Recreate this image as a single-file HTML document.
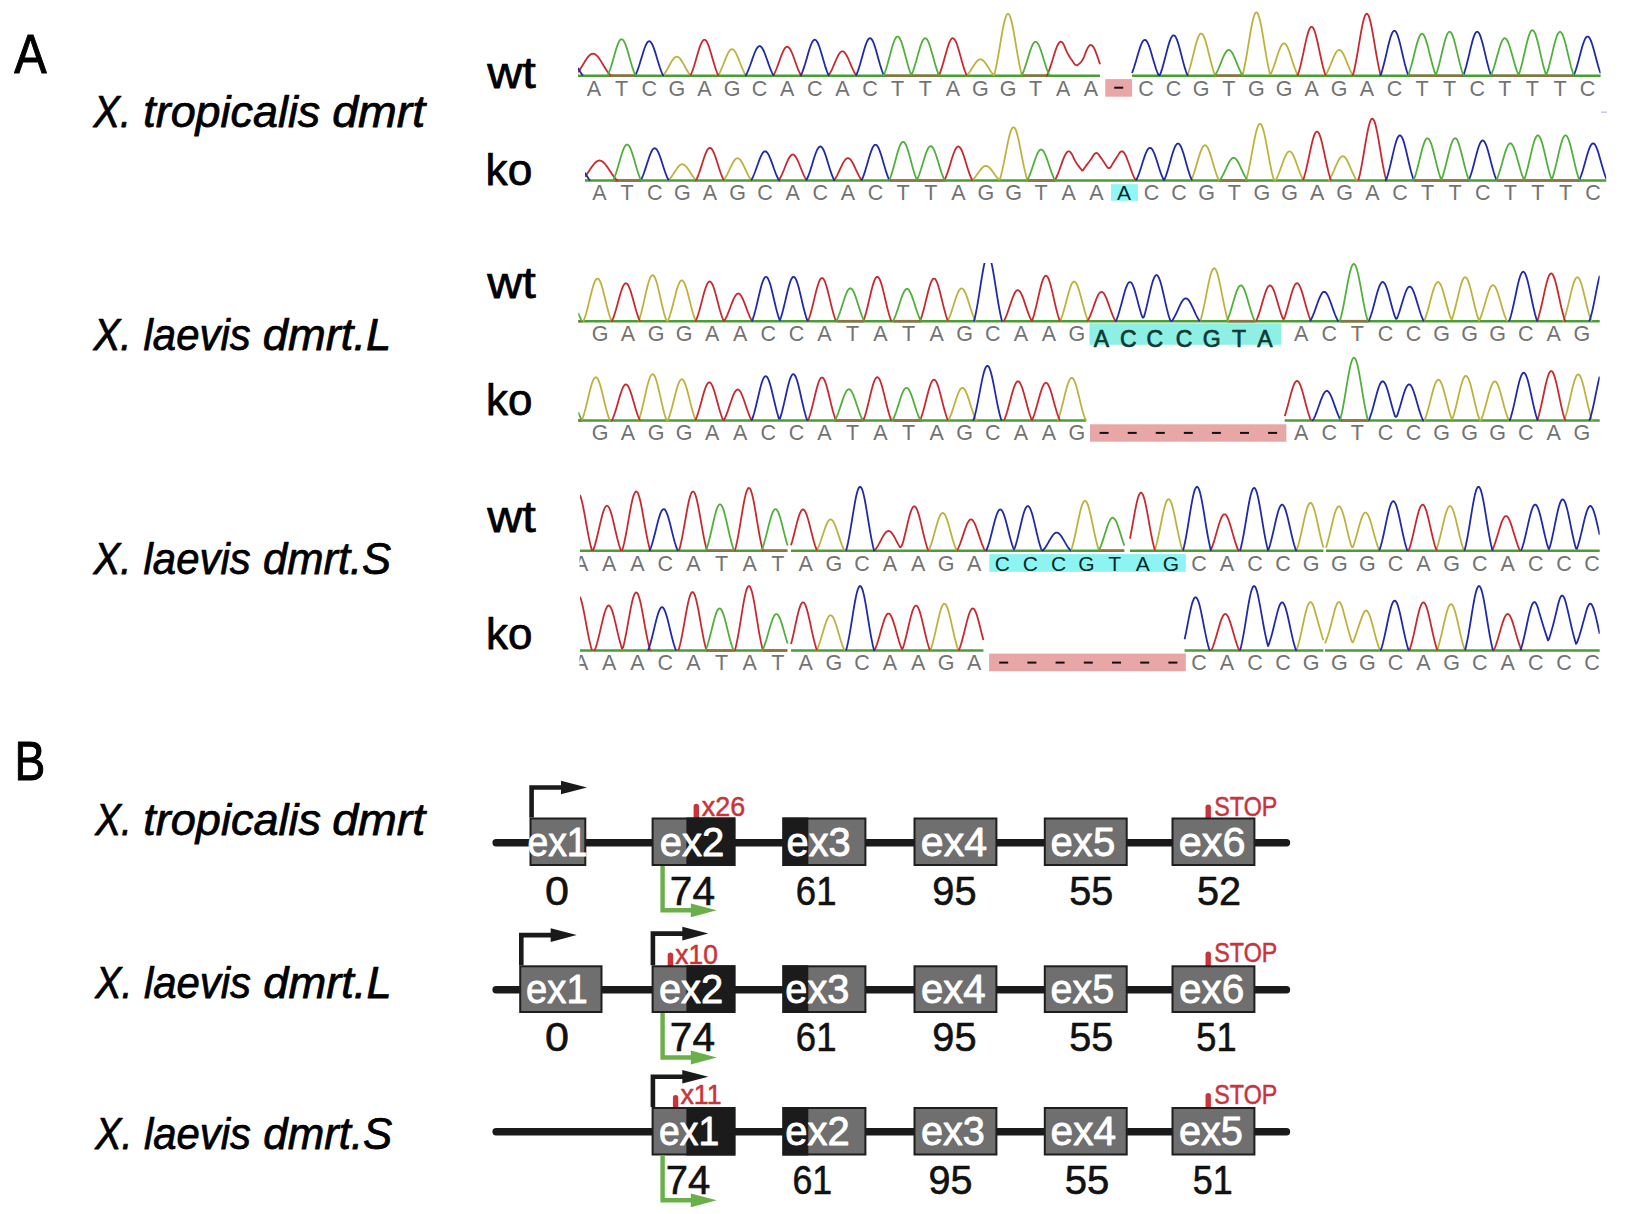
<!DOCTYPE html>
<html><head><meta charset="utf-8"><style>
html,body{margin:0;padding:0;background:#fff;overflow:hidden;}
svg{display:block;}
text{font-family:"Liberation Sans",sans-serif;}
</style></head><body>
<svg width="1628" height="1214" viewBox="0 0 1628 1214" font-family='"Liberation Sans", sans-serif'>
<rect width="1628" height="1214" fill="#fff"/>
<text x="14.21" y="72.70" font-size="55.40" fill="#000" textLength="32.39" lengthAdjust="spacingAndGlyphs" stroke="#000" stroke-width="1.00" stroke-linejoin="round">A</text>
<text x="14.41" y="780.20" font-size="54.70" fill="#000" textLength="30.83" lengthAdjust="spacingAndGlyphs" stroke="#000" stroke-width="1.00" stroke-linejoin="round">B</text>
<text x="93.46" y="127.00" font-size="43.50" fill="#000" textLength="37.51" lengthAdjust="spacingAndGlyphs" font-style="italic" stroke="#000" stroke-width="0.75" stroke-linejoin="round">X.</text>
<text x="143.26" y="127.00" font-size="43.50" fill="#000" textLength="177.06" lengthAdjust="spacingAndGlyphs" font-style="italic" stroke="#000" stroke-width="0.75" stroke-linejoin="round">tropicalis</text>
<text x="332.23" y="127.00" font-size="43.50" fill="#000" textLength="93.05" lengthAdjust="spacingAndGlyphs" font-style="italic" stroke="#000" stroke-width="0.75" stroke-linejoin="round">dmrt</text>
<text x="93.47" y="350.10" font-size="43.50" fill="#000" textLength="37.96" lengthAdjust="spacingAndGlyphs" font-style="italic" stroke="#000" stroke-width="0.75" stroke-linejoin="round">X.</text>
<text x="143.52" y="350.10" font-size="43.50" fill="#000" textLength="107.13" lengthAdjust="spacingAndGlyphs" font-style="italic" stroke="#000" stroke-width="0.75" stroke-linejoin="round">laevis</text>
<text x="262.87" y="350.10" font-size="43.50" fill="#000" textLength="128.29" lengthAdjust="spacingAndGlyphs" font-style="italic" stroke="#000" stroke-width="0.75" stroke-linejoin="round">dmrt.L</text>
<text x="93.47" y="574.00" font-size="43.50" fill="#000" textLength="37.96" lengthAdjust="spacingAndGlyphs" font-style="italic" stroke="#000" stroke-width="0.75" stroke-linejoin="round">X.</text>
<text x="143.52" y="574.00" font-size="43.50" fill="#000" textLength="107.13" lengthAdjust="spacingAndGlyphs" font-style="italic" stroke="#000" stroke-width="0.75" stroke-linejoin="round">laevis</text>
<text x="262.93" y="574.00" font-size="43.50" fill="#000" textLength="128.23" lengthAdjust="spacingAndGlyphs" font-style="italic" stroke="#000" stroke-width="0.75" stroke-linejoin="round">dmrt.S</text>
<text x="95.14" y="834.70" font-size="43.50" fill="#000" textLength="36.61" lengthAdjust="spacingAndGlyphs" font-style="italic" stroke="#000" stroke-width="0.75" stroke-linejoin="round">X.</text>
<text x="143.25" y="834.70" font-size="43.50" fill="#000" textLength="177.87" lengthAdjust="spacingAndGlyphs" font-style="italic" stroke="#000" stroke-width="0.75" stroke-linejoin="round">tropicalis</text>
<text x="332.23" y="834.70" font-size="43.50" fill="#000" textLength="93.05" lengthAdjust="spacingAndGlyphs" font-style="italic" stroke="#000" stroke-width="0.75" stroke-linejoin="round">dmrt</text>
<text x="95.15" y="997.50" font-size="43.50" fill="#000" textLength="37.17" lengthAdjust="spacingAndGlyphs" font-style="italic" stroke="#000" stroke-width="0.75" stroke-linejoin="round">X.</text>
<text x="143.92" y="997.50" font-size="43.50" fill="#000" textLength="107.13" lengthAdjust="spacingAndGlyphs" font-style="italic" stroke="#000" stroke-width="0.75" stroke-linejoin="round">laevis</text>
<text x="263.27" y="997.50" font-size="43.50" fill="#000" textLength="128.39" lengthAdjust="spacingAndGlyphs" font-style="italic" stroke="#000" stroke-width="0.75" stroke-linejoin="round">dmrt.L</text>
<text x="95.15" y="1148.50" font-size="43.50" fill="#000" textLength="37.17" lengthAdjust="spacingAndGlyphs" font-style="italic" stroke="#000" stroke-width="0.75" stroke-linejoin="round">X.</text>
<text x="143.92" y="1148.50" font-size="43.50" fill="#000" textLength="107.13" lengthAdjust="spacingAndGlyphs" font-style="italic" stroke="#000" stroke-width="0.75" stroke-linejoin="round">laevis</text>
<text x="263.32" y="1148.50" font-size="43.50" fill="#000" textLength="128.95" lengthAdjust="spacingAndGlyphs" font-style="italic" stroke="#000" stroke-width="0.75" stroke-linejoin="round">dmrt.S</text>
<text x="487.17" y="88.10" font-size="43.50" fill="#000" textLength="48.69" lengthAdjust="spacingAndGlyphs" stroke="#000" stroke-width="0.75" stroke-linejoin="round">wt</text>
<text x="485.52" y="185.00" font-size="43.50" fill="#000" textLength="46.74" lengthAdjust="spacingAndGlyphs" stroke="#000" stroke-width="0.75" stroke-linejoin="round">ko</text>
<text x="487.17" y="297.70" font-size="43.50" fill="#000" textLength="48.69" lengthAdjust="spacingAndGlyphs" stroke="#000" stroke-width="0.75" stroke-linejoin="round">wt</text>
<text x="485.94" y="414.60" font-size="43.50" fill="#000" textLength="46.41" lengthAdjust="spacingAndGlyphs" stroke="#000" stroke-width="0.75" stroke-linejoin="round">ko</text>
<text x="487.17" y="531.70" font-size="43.50" fill="#000" textLength="48.69" lengthAdjust="spacingAndGlyphs" stroke="#000" stroke-width="0.75" stroke-linejoin="round">wt</text>
<text x="485.94" y="648.90" font-size="43.50" fill="#000" textLength="46.41" lengthAdjust="spacingAndGlyphs" stroke="#000" stroke-width="0.75" stroke-linejoin="round">ko</text>
<clipPath id="cl0"><rect x="578.0" y="-4.3" width="1022.6" height="83.0"/></clipPath>
<rect x="1105.3" y="79.1" width="26.8" height="17.6" fill="#e8a6a6"/>
<rect x="1114.2" y="86.7" width="9" height="2" fill="#111"/>
<line x1="578.0" y1="75.7" x2="1100.0" y2="75.7" stroke="#4a9e34" stroke-width="2.6"/>
<line x1="608.0" y1="75.7" x2="636.0" y2="75.7" stroke="#8a7444" stroke-width="2.6"/>
<line x1="884.0" y1="75.7" x2="940.0" y2="75.7" stroke="#8a7444" stroke-width="2.6"/>
<line x1="1022.0" y1="75.7" x2="1050.0" y2="75.7" stroke="#8a7444" stroke-width="2.6"/>
<line x1="1132.0" y1="75.7" x2="1600.6" y2="75.7" stroke="#4a9e34" stroke-width="2.6"/>
<line x1="1216.0" y1="75.7" x2="1243.0" y2="75.7" stroke="#8a7444" stroke-width="2.6"/>
<line x1="1409.0" y1="75.7" x2="1464.0" y2="75.7" stroke="#8a7444" stroke-width="2.6"/>
<line x1="1491.0" y1="75.7" x2="1574.0" y2="75.7" stroke="#8a7444" stroke-width="2.6"/>
<g clip-path="url(#cl0)" fill="none" stroke-width="1.8" stroke-linejoin="round">
<path d="M662,75.7 663,75.5 664,74.3 665,72.9 666,71.3 667,69.7 668,67.9 669,66.0 670,64.2 671,62.4 672,60.8 673,59.4 674,58.2 675,57.3 676,56.8 677,56.7 678,57.0 679,57.6 680,58.6 681,59.9 682,61.4 683,63.1 684,64.9 685,66.8 686,68.6 687,70.3 688,72.0 689,73.5 690,74.8 691,75.7M718,75.7 719,74.1 720,72.2 721,70.0 722,67.7 723,65.3 724,62.7 725,60.1 726,57.6 727,55.3 728,53.2 729,51.5 730,50.2 731,49.4 732,49.1 733,49.4 734,50.2 735,51.5 736,53.2 737,55.3 738,57.6 739,60.1 740,62.7 741,65.3 742,67.7 743,70.0 744,72.2 745,74.1 746,75.7M966,75.7 967,75.1 968,74.0 969,72.8 970,71.4 971,69.9 972,68.3 973,66.7 974,65.2 975,63.7 976,62.3 977,61.2 978,60.2 979,59.6 980,59.3 981,59.4 982,59.7 983,60.4 984,61.4 985,62.6 986,64.0 987,65.5 988,67.0 989,68.6 990,70.2 991,71.7 992,73.0 993,74.2 994,75.3 995,71.9 996,67.5 997,62.5 998,57.1 999,51.4 1000,45.4 1001,39.4 1002,33.5 1003,28.1 1004,23.2 1005,19.2 1006,16.2 1007,14.3 1008,13.7 1009,14.3 1010,16.2 1011,19.2 1012,23.2 1013,28.1 1014,33.5 1015,39.4 1016,45.4 1017,51.4 1018,57.1 1019,62.5 1020,67.5 1021,71.9 1022,75.7M1187,75.7 1188,73.7 1189,70.7 1190,67.4 1191,63.8 1192,59.9 1193,55.9 1194,51.8 1195,47.8 1196,44.0 1197,40.6 1198,37.8 1199,35.6 1200,34.1 1201,33.5 1202,33.8 1203,34.9 1204,36.8 1205,39.4 1206,42.6 1207,46.2 1208,50.2 1209,54.3 1210,58.3 1211,62.3 1212,66.0 1213,69.5 1214,72.5 1215,75.2 1216,75.7M1242,75.7 1243,73.4 1244,69.2 1245,64.3 1246,59.0 1247,53.2 1248,47.2 1249,41.1 1250,35.0 1251,29.3 1252,24.0 1253,19.6 1254,16.1 1255,13.7 1256,12.5 1257,12.6 1258,14.0 1259,16.7 1260,20.4 1261,25.0 1262,30.4 1263,36.2 1264,42.3 1265,48.4 1266,54.4 1267,60.1 1268,65.3 1269,70.1 1270,74.2 1271,73.7 1272,71.4 1273,68.8 1274,66.0 1275,63.0 1276,59.9 1277,56.7 1278,53.7 1279,50.8 1280,48.3 1281,46.2 1282,44.6 1283,43.6 1284,43.3 1285,43.6 1286,44.6 1287,46.2 1288,48.3 1289,50.8 1290,53.7 1291,56.7 1292,59.9 1293,63.0 1294,66.0 1295,68.8 1296,71.4 1297,73.7 1298,75.7M1325,75.7 1326,74.4 1327,72.7 1328,70.6 1329,68.4 1330,66.1 1331,63.6 1332,61.1 1333,58.6 1334,56.3 1335,54.3 1336,52.5 1337,51.2 1338,50.3 1339,49.9 1340,50.1 1341,50.7 1342,51.9 1343,53.5 1344,55.5 1345,57.7 1346,60.1 1347,62.6 1348,65.1 1349,67.5 1350,69.8 1351,71.9 1352,73.8 1353,75.4 1354,75.7" stroke="#bdb23e"/>
<path d="M578,72.3 579,70.9 580,69.4 581,67.8 582,66.2 583,64.5 584,62.9 585,61.2 586,59.7 587,58.2 588,56.9 589,55.8 590,54.9 591,54.2 592,53.8 593,53.7 594,53.8 595,54.2 596,54.9 597,55.8 598,56.9 599,58.2 600,59.7 601,61.2 602,62.9 603,64.5 604,66.2 605,67.8 606,69.4 607,70.9 608,72.3 609,73.6 610,74.7 611,75.7M690,75.7 691,74.4 692,72.0 693,69.2 694,66.2 695,62.9 696,59.5 697,56.0 698,52.6 699,49.3 700,46.3 701,43.8 702,41.8 703,40.4 704,39.8 705,39.8 706,40.6 707,42.1 708,44.2 709,46.9 710,49.9 711,53.2 712,56.7 713,60.2 714,63.6 715,66.8 716,69.8 717,72.5 718,74.9 719,75.7M773,75.7 774,74.3 775,72.3 776,70.0 777,67.5 778,64.9 779,62.1 780,59.3 781,56.5 782,53.9 783,51.6 784,49.6 785,48.1 786,47.1 787,46.7 788,46.9 789,47.7 790,49.0 791,50.8 792,53.0 793,55.5 794,58.2 795,61.0 796,63.8 797,66.5 798,69.1 799,71.4 800,73.5 801,75.4 802,75.7M828,75.7 829,74.8 830,73.2 831,71.3 832,69.3 833,67.0 834,64.7 835,62.4 836,60.0 837,57.8 838,55.8 839,54.1 840,52.7 841,51.8 842,51.3 843,51.4 844,51.9 845,52.9 846,54.4 847,56.2 848,58.2 849,60.5 850,62.8 851,65.2 852,67.5 853,69.7 854,71.7 855,73.5 856,75.1 857,75.7M938,75.7 939,75.3 940,72.9 941,70.1 942,67.1 943,63.8 944,60.3 945,56.6 946,53.0 947,49.5 948,46.3 949,43.4 950,41.1 951,39.4 952,38.4 953,38.2 954,38.8 955,40.0 956,42.0 957,44.5 958,47.5 959,50.9 960,54.5 961,58.1 962,61.7 963,65.1 964,68.4 965,71.3 966,73.9 967,75.7M1046,75.7 1047,75.3 1048,73.1 1049,70.7 1050,67.9 1051,64.9 1052,61.7 1053,58.4 1054,55.1 1055,52.0 1056,49.0 1057,46.5 1058,44.4 1059,42.8 1060,41.9 1061,41.7 1062,42.2 1063,43.4 1064,45.1 1065,47.4 1066,50.2 1067,52.1 1068,54.0 1069,55.8 1070,57.4 1071,58.9 1072,60.3 1073,61.8 1074,63.3 1075,64.7 1076,65.0 1077,65.4 1078,64.7 1079,63.9 1080,63.1 1081,62.0 1082,60.7 1083,59.0 1084,57.1 1085,54.3 1086,51.6 1087,49.3 1088,47.4 1089,46.0 1090,45.2 1091,45.0 1092,45.5 1093,46.5 1094,48.1 1095,50.2 1096,52.6 1097,55.4 1098,58.3 1099,61.3 1100,64.2M1297,75.7 1298,74.6 1299,71.3 1300,67.7 1301,63.6 1302,59.2 1303,54.6 1304,49.8 1305,45.1 1306,40.6 1307,36.5 1308,32.9 1309,30.0 1310,28.0 1311,26.9 1312,26.8 1313,27.7 1314,29.5 1315,32.3 1316,35.7 1317,39.8 1318,44.2 1319,48.9 1320,53.7 1321,58.3 1322,62.8 1323,66.9 1324,70.6 1325,73.9 1326,75.7M1352,75.7 1353,75.0 1354,71.0 1355,66.5 1356,61.5 1357,56.0 1358,50.2 1359,44.2 1360,38.2 1361,32.4 1362,27.1 1363,22.4 1364,18.5 1365,15.7 1366,14.1 1367,13.7 1368,14.6 1369,16.7 1370,20.0 1371,24.2 1372,29.1 1373,34.7 1374,40.6 1375,46.6 1376,52.5 1377,58.2 1378,63.6 1379,68.4 1380,72.7 1381,75.7" stroke="#c62a2f"/>
<path d="M578,67.9 579,69.7 580,71.5 581,73.0 582,74.5 583,75.7M635,75.7 636,74.0 637,71.6 638,68.9 639,66.0 640,62.8 641,59.5 642,56.2 643,52.9 644,49.8 645,47.0 646,44.7 647,42.9 648,41.7 649,41.2 650,41.4 651,42.3 652,43.9 653,46.0 654,48.6 655,51.6 656,54.8 657,58.2 658,61.5 659,64.7 660,67.8 661,70.6 662,73.1 663,75.3 664,75.7M745,75.7 746,75.0 747,73.1 748,70.9 749,68.4 750,65.8 751,63.0 752,60.1 753,57.2 754,54.5 755,52.0 756,49.8 757,48.1 758,46.9 759,46.2 760,46.1 761,46.7 762,47.8 763,49.5 764,51.5 765,54.0 766,56.7 767,59.5 768,62.4 769,65.2 770,67.9 771,70.4 772,72.6 773,74.6 774,75.7M800,75.7 801,75.3 802,73.0 803,70.4 804,67.4 805,64.3 806,60.9 807,57.4 808,53.9 809,50.6 810,47.5 811,44.7 812,42.5 813,40.9 814,39.9 815,39.7 816,40.2 817,41.5 818,43.3 819,45.8 820,48.7 821,51.9 822,55.3 823,58.8 824,62.3 825,65.6 826,68.6 827,71.5 828,74.0 829,75.7M856,75.7 857,73.4 858,70.7 859,67.7 860,64.5 861,61.0 862,57.4 863,53.7 864,50.2 865,46.9 866,44.0 867,41.5 868,39.7 869,38.6 870,38.2 871,38.6 872,39.7 873,41.5 874,44.0 875,46.9 876,50.2 877,53.7 878,57.4 879,61.0 880,64.5 881,67.7 882,70.7 883,73.4 884,75.7M1132,73.0 1133,70.4 1134,67.5 1135,64.3 1136,61.0 1137,57.5 1138,54.0 1139,50.7 1140,47.6 1141,44.9 1142,42.7 1143,41.1 1144,40.1 1145,39.9 1146,40.4 1147,41.6 1148,43.5 1149,45.9 1150,48.8 1151,52.0 1152,55.4 1153,58.9 1154,62.3 1155,65.6 1156,68.7 1157,71.5 1158,74.0 1159,75.7M1159,75.7 1160,74.8 1161,72.1 1162,69.1 1163,65.7 1164,62.1 1165,58.3 1166,54.4 1167,50.5 1168,46.8 1169,43.4 1170,40.4 1171,38.0 1172,36.4 1173,35.4 1174,35.4 1175,36.1 1176,37.6 1177,39.9 1178,42.7 1179,46.1 1180,49.7 1181,53.6 1182,57.5 1183,61.4 1184,65.0 1185,68.4 1186,71.5 1187,74.3 1188,75.7M1380,75.7 1381,74.1 1382,71.1 1383,67.6 1384,63.8 1385,59.7 1386,55.5 1387,51.1 1388,46.8 1389,42.7 1390,39.0 1391,35.8 1392,33.3 1393,31.6 1394,30.8 1395,30.9 1396,31.9 1397,33.7 1398,36.4 1399,39.7 1400,43.5 1401,47.6 1402,52.0 1403,56.3 1404,60.6 1405,64.6 1406,68.3 1407,71.7 1408,74.6 1409,75.7M1463,75.7 1464,73.6 1465,70.5 1466,67.1 1467,63.3 1468,59.3 1469,55.1 1470,50.8 1471,46.6 1472,42.7 1473,39.1 1474,36.1 1475,33.8 1476,32.3 1477,31.7 1478,32.0 1479,33.1 1480,35.1 1481,37.9 1482,41.2 1483,45.0 1484,49.1 1485,53.3 1486,57.6 1487,61.7 1488,65.6 1489,69.2 1490,72.4 1491,75.2 1492,75.7M1573,75.7 1574,74.8 1575,72.2 1576,69.3 1577,66.0 1578,62.5 1579,58.8 1580,55.0 1581,51.2 1582,47.6 1583,44.3 1584,41.5 1585,39.1 1586,37.5 1587,36.6 1588,36.6 1589,37.3 1590,38.8 1591,40.9 1592,43.7 1593,46.9 1594,50.5 1595,54.3 1596,58.1 1597,61.8 1598,65.4 1599,68.7 1600,71.7 1600.6,73.3" stroke="#1f2aa8"/>
<path d="M607,75.7 608,74.8 609,72.4 610,69.7 611,66.7 612,63.4 613,60.0 614,56.4 615,52.9 616,49.6 617,46.5 618,43.8 619,41.7 620,40.1 621,39.3 622,39.3 623,39.9 624,41.3 625,43.3 626,45.9 627,48.9 628,52.2 629,55.7 630,59.3 631,62.8 632,66.1 633,69.1 634,71.9 635,74.4 636,75.7M883,75.7 884,74.8 885,72.2 886,69.3 887,66.0 888,62.5 889,58.8 890,55.0 891,51.2 892,47.6 893,44.3 894,41.5 895,39.1 896,37.5 897,36.6 898,36.6 899,37.3 900,38.8 901,40.9 902,43.7 903,46.9 904,50.5 905,54.3 906,58.1 907,61.8 908,65.4 909,68.7 910,71.7 911,74.3 912,73.9 913,71.3 914,68.4 915,65.1 916,61.7 917,58.1 918,54.5 919,50.9 920,47.5 921,44.5 922,42.0 923,40.0 924,38.8 925,38.2 926,38.4 927,39.4 928,41.1 929,43.4 930,46.3 931,49.5 932,53.0 933,56.6 934,60.3 935,63.8 936,67.1 937,70.1 938,72.9 939,75.3 940,75.7M1021,75.7 1022,74.9 1023,72.7 1024,70.1 1025,67.3 1026,64.3 1027,61.1 1028,57.8 1029,54.5 1030,51.4 1031,48.5 1032,46.0 1033,44.0 1034,42.6 1035,41.8 1036,41.8 1037,42.4 1038,43.7 1039,45.6 1040,48.0 1041,50.8 1042,53.8 1043,57.1 1044,60.4 1045,63.6 1046,66.7 1047,69.6 1048,72.2 1049,74.5 1050,75.7M1214,75.7 1215,75.4 1216,73.8 1217,71.9 1218,69.8 1219,67.5 1220,65.1 1221,62.6 1222,60.1 1223,57.7 1224,55.5 1225,53.5 1226,51.9 1227,50.7 1228,50.1 1229,49.9 1230,50.3 1231,51.2 1232,52.5 1233,54.3 1234,56.3 1235,58.6 1236,61.1 1237,63.6 1238,66.1 1239,68.4 1240,70.6 1241,72.7 1242,74.4 1243,75.7M1408,75.7 1409,73.1 1410,70.1 1411,66.8 1412,63.1 1413,59.2 1414,55.2 1415,51.1 1416,47.1 1417,43.5 1418,40.2 1419,37.4 1420,35.4 1421,34.1 1422,33.7 1423,34.1 1424,35.4 1425,37.4 1426,40.2 1427,43.5 1428,47.1 1429,51.1 1430,55.2 1431,59.2 1432,63.1 1433,66.8 1434,70.1 1435,73.1 1436,74.7 1437,71.8 1438,68.5 1439,64.9 1440,60.9 1441,56.8 1442,52.5 1443,48.3 1444,44.2 1445,40.5 1446,37.3 1447,34.7 1448,32.8 1449,31.9 1450,31.8 1451,32.6 1452,34.2 1453,36.7 1454,39.8 1455,43.4 1456,47.4 1457,51.6 1458,55.9 1459,60.1 1460,64.1 1461,67.8 1462,71.2 1463,74.1 1464,75.7M1490,75.7 1491,75.3 1492,72.9 1493,70.1 1494,67.1 1495,63.8 1496,60.3 1497,56.6 1498,53.0 1499,49.5 1500,46.3 1501,43.4 1502,41.1 1503,39.4 1504,38.4 1505,38.2 1506,38.8 1507,40.0 1508,42.0 1509,44.5 1510,47.5 1511,50.9 1512,54.5 1513,58.1 1514,61.7 1515,65.1 1516,68.4 1517,71.3 1518,73.9 1519,74.1 1520,71.0 1521,67.5 1522,63.7 1523,59.5 1524,55.2 1525,50.8 1526,46.4 1527,42.2 1528,38.5 1529,35.3 1530,32.7 1531,31.0 1532,30.2 1533,30.3 1534,31.3 1535,33.2 1536,35.9 1537,39.2 1538,43.0 1539,47.3 1540,51.6 1541,56.1 1542,60.4 1543,64.5 1544,68.2 1545,71.6 1546,74.6 1547,73.0 1548,69.9 1549,66.4 1550,62.5 1551,58.4 1552,54.2 1553,49.9 1554,45.8 1555,41.9 1556,38.5 1557,35.6 1558,33.5 1559,32.2 1560,31.7 1561,32.2 1562,33.5 1563,35.6 1564,38.5 1565,41.9 1566,45.8 1567,49.9 1568,54.2 1569,58.4 1570,62.5 1571,66.4 1572,69.9 1573,73.0 1574,75.7" stroke="#4fb03c"/>
</g>
<clipPath id="lc0"><rect x="579.5" y="70.5" width="1040" height="40"/></clipPath>
<g font-family="Liberation Sans, sans-serif" font-size="21.5" text-anchor="middle" clip-path="url(#lc0)">
<text x="594.0" y="95.5" fill="#737373">A</text>
<text x="621.6" y="95.5" fill="#737373">T</text>
<text x="649.2" y="95.5" fill="#737373">C</text>
<text x="676.8" y="95.5" fill="#737373">G</text>
<text x="704.4" y="95.5" fill="#737373">A</text>
<text x="732.0" y="95.5" fill="#737373">G</text>
<text x="759.6" y="95.5" fill="#737373">C</text>
<text x="787.2" y="95.5" fill="#737373">A</text>
<text x="814.8" y="95.5" fill="#737373">C</text>
<text x="842.4" y="95.5" fill="#737373">A</text>
<text x="870.0" y="95.5" fill="#737373">C</text>
<text x="897.6" y="95.5" fill="#737373">T</text>
<text x="925.2" y="95.5" fill="#737373">T</text>
<text x="952.8" y="95.5" fill="#737373">A</text>
<text x="980.4" y="95.5" fill="#737373">G</text>
<text x="1008.0" y="95.5" fill="#737373">G</text>
<text x="1035.6" y="95.5" fill="#737373">T</text>
<text x="1063.2" y="95.5" fill="#737373">A</text>
<text x="1090.8" y="95.5" fill="#737373">A</text>
<text x="1146.0" y="95.5" fill="#737373">C</text>
<text x="1173.6" y="95.5" fill="#737373">C</text>
<text x="1201.2" y="95.5" fill="#737373">G</text>
<text x="1228.8" y="95.5" fill="#737373">T</text>
<text x="1256.4" y="95.5" fill="#737373">G</text>
<text x="1284.0" y="95.5" fill="#737373">G</text>
<text x="1311.6" y="95.5" fill="#737373">A</text>
<text x="1339.2" y="95.5" fill="#737373">G</text>
<text x="1366.8" y="95.5" fill="#737373">A</text>
<text x="1394.4" y="95.5" fill="#737373">C</text>
<text x="1422.0" y="95.5" fill="#737373">T</text>
<text x="1449.6" y="95.5" fill="#737373">T</text>
<text x="1477.2" y="95.5" fill="#737373">C</text>
<text x="1504.8" y="95.5" fill="#737373">T</text>
<text x="1532.4" y="95.5" fill="#737373">T</text>
<text x="1560.0" y="95.5" fill="#737373">T</text>
<text x="1587.6" y="95.5" fill="#737373">C</text>
</g>
<clipPath id="cl1"><rect x="585.0" y="100.5" width="1021.3" height="83.0"/></clipPath>
<rect x="1111.0" y="184.2" width="26.9" height="16.6" fill="#90f6f6"/>
<line x1="585.0" y1="180.5" x2="1606.3" y2="180.5" stroke="#4a9e34" stroke-width="2.6"/>
<line x1="614.0" y1="180.5" x2="641.0" y2="180.5" stroke="#8a7444" stroke-width="2.6"/>
<line x1="890.0" y1="180.5" x2="945.0" y2="180.5" stroke="#8a7444" stroke-width="2.6"/>
<line x1="1028.0" y1="180.5" x2="1055.0" y2="180.5" stroke="#8a7444" stroke-width="2.6"/>
<line x1="1220.0" y1="180.5" x2="1248.0" y2="180.5" stroke="#8a7444" stroke-width="2.6"/>
<line x1="1414.0" y1="180.5" x2="1469.0" y2="180.5" stroke="#8a7444" stroke-width="2.6"/>
<line x1="1497.0" y1="180.5" x2="1580.0" y2="180.5" stroke="#8a7444" stroke-width="2.6"/>
<g clip-path="url(#cl1)" fill="none" stroke-width="1.8" stroke-linejoin="round">
<path d="M668,180.5 669,179.8 670,178.7 671,177.4 672,176.1 673,174.6 674,173.0 675,171.4 676,169.9 677,168.4 678,167.1 679,165.9 680,165.1 681,164.5 682,164.2 683,164.3 684,164.7 685,165.4 686,166.4 687,167.6 688,169.0 689,170.5 690,172.1 691,173.6 692,175.2 693,176.6 694,178.0 695,179.2 696,180.2 697,180.5M723,180.5 724,179.8 725,178.4 726,176.7 727,174.8 728,172.8 729,170.7 730,168.5 731,166.4 732,164.3 733,162.5 734,160.9 735,159.6 736,158.7 737,158.3 738,158.3 739,158.7 740,159.6 741,160.9 742,162.5 743,164.3 744,166.4 745,168.5 746,170.7 747,172.8 748,174.8 749,176.7 750,178.4 751,179.8 752,180.5M972,180.5 973,179.5 974,178.5 975,177.3 976,176.0 977,174.6 978,173.2 979,171.8 980,170.4 981,169.2 982,168.0 983,167.1 984,166.4 985,166.0 986,165.9 987,166.1 988,166.5 989,167.3 990,168.3 991,169.4 992,170.7 993,172.1 994,173.5 995,174.9 996,176.3 997,177.5 998,178.7 999,179.7 1000,178.9 1001,175.4 1002,171.4 1003,166.9 1004,162.1 1005,157.0 1006,151.9 1007,146.7 1008,141.9 1009,137.4 1010,133.6 1011,130.5 1012,128.4 1013,127.3 1014,127.3 1015,128.4 1016,130.5 1017,133.6 1018,137.4 1019,141.9 1020,146.7 1021,151.9 1022,157.0 1023,162.1 1024,166.9 1025,171.4 1026,175.4 1027,178.9 1028,180.5M1191,180.5 1192,178.3 1193,175.8 1194,173.0 1195,169.9 1196,166.6 1197,163.2 1198,159.8 1199,156.5 1200,153.4 1201,150.6 1202,148.3 1203,146.6 1204,145.6 1205,145.2 1206,145.6 1207,146.6 1208,148.3 1209,150.6 1210,153.4 1211,156.5 1212,159.8 1213,163.2 1214,166.6 1215,169.9 1216,173.0 1217,175.8 1218,178.3 1219,180.5M1246,180.5 1247,177.0 1248,173.0 1249,168.4 1250,163.5 1251,158.2 1252,152.7 1253,147.2 1254,141.9 1255,136.9 1256,132.4 1257,128.8 1258,126.0 1259,124.3 1260,123.7 1261,124.3 1262,126.0 1263,128.8 1264,132.4 1265,136.9 1266,141.9 1267,147.2 1268,152.7 1269,158.2 1270,163.5 1271,168.4 1272,173.0 1273,177.0 1274,180.5M1275,180.5 1276,179.6 1277,177.7 1278,175.5 1279,173.0 1280,170.4 1281,167.6 1282,164.8 1283,162.0 1284,159.3 1285,156.9 1286,154.8 1287,153.1 1288,152.0 1289,151.4 1290,151.4 1291,152.0 1292,153.1 1293,154.8 1294,156.9 1295,159.3 1296,162.0 1297,164.8 1298,167.6 1299,170.4 1300,173.0 1301,175.5 1302,177.7 1303,179.6 1304,180.5M1328,180.5 1329,180.2 1330,178.7 1331,176.9 1332,174.9 1333,172.7 1334,170.5 1335,168.1 1336,165.7 1337,163.5 1338,161.4 1339,159.5 1340,158.0 1341,156.9 1342,156.3 1343,156.1 1344,156.5 1345,157.3 1346,158.6 1347,160.2 1348,162.2 1349,164.4 1350,166.7 1351,169.0 1352,171.4 1353,173.6 1354,175.7 1355,177.6 1356,179.3 1357,180.5" stroke="#bdb23e"/>
<path d="M585,176.8 586,175.4 587,174.1 588,172.6 589,171.1 590,169.6 591,168.1 592,166.6 593,165.3 594,164.0 595,162.9 596,162.0 597,161.3 598,160.8 599,160.5 600,160.5 601,160.8 602,161.3 603,162.0 604,162.9 605,164.0 606,165.3 607,166.6 608,168.1 609,169.6 610,171.1 611,172.6 612,174.1 613,175.4 614,176.8 615,178.0 616,179.1 617,180.1 618,180.5M695,180.5 696,180.3 697,178.3 698,175.9 699,173.3 700,170.4 701,167.4 702,164.2 703,161.0 704,158.0 705,155.1 706,152.6 707,150.5 708,149.0 709,148.1 710,147.8 711,148.2 712,149.3 713,150.9 714,153.1 715,155.7 716,158.6 717,161.7 718,164.8 719,168.0 720,171.0 721,173.8 722,176.4 723,178.7 724,180.5M778,180.5 779,180.0 780,178.4 781,176.4 782,174.3 783,172.0 784,169.6 785,167.0 786,164.5 787,162.1 788,159.9 789,158.0 790,156.4 791,155.3 792,154.6 793,154.5 794,154.9 795,155.9 796,157.3 797,159.1 798,161.2 799,163.5 800,166.0 801,168.5 802,171.0 803,173.4 804,175.6 805,177.6 806,179.4 807,180.5M834,180.5 835,179.0 836,177.4 837,175.6 838,173.6 839,171.5 840,169.3 841,167.2 842,165.1 843,163.1 844,161.4 845,160.0 846,158.9 847,158.3 848,158.1 849,158.4 850,159.1 851,160.2 852,161.7 853,163.5 854,165.5 855,167.6 856,169.8 857,171.9 858,174.0 859,175.9 860,177.7 861,179.3 862,180.5M944,180.5 945,179.1 946,176.7 947,174.1 948,171.2 949,168.1 950,164.9 951,161.6 952,158.3 953,155.3 954,152.5 955,150.1 956,148.3 957,147.1 958,146.5 959,146.7 960,147.5 961,149.0 962,151.0 963,153.6 964,156.5 965,159.6 966,162.9 967,166.2 968,169.4 969,172.4 970,175.2 971,177.7 972,179.9 973,180.5M1054,180.5 1055,180.0 1056,178.1 1057,176.0 1058,173.6 1059,171.0 1060,168.2 1061,165.4 1062,162.6 1063,159.9 1064,157.4 1065,155.2 1066,153.4 1067,152.2 1068,151.4 1069,151.3 1070,151.8 1071,152.9 1072,154.4 1073,156.4 1074,158.8 1075,160.6 1076,162.3 1077,163.9 1078,165.3 1079,166.6 1080,167.9 1081,169.1 1082,170.5 1083,170.3 1084,168.7 1085,167.2 1086,165.9 1087,164.6 1088,163.3 1089,162.0 1090,160.6 1091,159.2 1092,157.8 1093,155.9 1094,154.5 1095,153.5 1096,153.0 1097,153.1 1098,153.8 1099,155.0 1100,156.7 1101,157.9 1102,159.3 1103,160.7 1104,162.2 1105,163.7 1106,165.2 1107,166.7 1108,168.1 1109,168.0 1110,167.9 1111,166.6 1112,164.9 1113,163.2 1114,161.6 1115,160.0 1116,158.4 1117,156.8 1118,155.4 1119,153.6 1120,152.3 1121,151.5 1122,151.3 1123,151.7 1124,152.7 1125,154.2 1126,156.2 1127,158.6 1128,161.2 1129,164.0 1130,166.8 1131,169.6 1132,172.3 1133,174.8 1134,177.1 1135,179.1 1136,180.5M1303,180.5 1304,177.5 1305,174.0 1306,170.1 1307,165.8 1308,161.3 1309,156.6 1310,151.8 1311,147.2 1312,142.9 1313,139.0 1314,135.9 1315,133.5 1316,132.0 1317,131.5 1318,132.0 1319,133.5 1320,135.9 1321,139.0 1322,142.9 1323,147.2 1324,151.8 1325,156.6 1326,161.3 1327,165.8 1328,170.1 1329,174.0 1330,177.5 1331,180.5M1358,180.5 1359,177.9 1360,173.7 1361,168.9 1362,163.6 1363,158.0 1364,152.0 1365,146.0 1366,140.1 1367,134.6 1368,129.5 1369,125.2 1370,121.9 1371,119.7 1372,118.7 1373,118.9 1374,120.4 1375,123.1 1376,126.8 1377,131.4 1378,136.7 1379,142.5 1380,148.4 1381,154.4 1382,160.3 1383,165.8 1384,170.9 1385,175.4 1386,179.4 1387,180.5" stroke="#c62a2f"/>
<path d="M585,172.7 586,174.5 587,176.3 588,177.8 589,179.3 590,180.5M640,180.5 641,179.9 642,177.8 643,175.5 644,172.8 645,169.9 646,166.9 647,163.8 648,160.7 649,157.7 650,154.9 651,152.5 652,150.5 653,149.1 654,148.4 655,148.2 656,148.8 657,149.9 658,151.7 659,153.9 660,156.5 661,159.4 662,162.5 663,165.7 664,168.7 665,171.7 666,174.4 667,176.9 668,179.1 669,180.5M751,180.5 752,178.9 753,176.8 754,174.5 755,172.0 756,169.3 757,166.5 758,163.7 759,160.9 760,158.3 761,156.0 762,154.1 763,152.6 764,151.7 765,151.3 766,151.5 767,152.4 768,153.7 769,155.6 770,157.8 771,160.4 772,163.1 773,165.9 774,168.8 775,171.5 776,174.1 777,176.4 778,178.5 779,180.3 780,180.5M806,180.5 807,179.1 808,176.7 809,174.1 810,171.2 811,168.1 812,164.9 813,161.6 814,158.3 815,155.3 816,152.5 817,150.1 818,148.3 819,147.1 820,146.5 821,146.7 822,147.5 823,149.0 824,151.0 825,153.6 826,156.5 827,159.6 828,162.9 829,166.2 830,169.4 831,172.4 832,175.2 833,177.7 834,179.9 835,180.5M861,180.5 862,179.4 863,177.1 864,174.4 865,171.4 866,168.1 867,164.7 868,161.3 869,157.8 870,154.5 871,151.6 872,149.0 873,146.9 874,145.5 875,144.8 876,144.8 877,145.5 878,146.9 879,149.0 880,151.6 881,154.5 882,157.8 883,161.3 884,164.7 885,168.1 886,171.4 887,174.4 888,177.1 889,179.4 890,180.5M1136,180.5 1137,178.5 1138,176.2 1139,173.6 1140,170.7 1141,167.7 1142,164.5 1143,161.3 1144,158.3 1145,155.4 1146,152.8 1147,150.7 1148,149.1 1149,148.1 1150,147.8 1151,148.1 1152,149.1 1153,150.7 1154,152.8 1155,155.4 1156,158.3 1157,161.3 1158,164.5 1159,167.7 1160,170.7 1161,173.6 1162,176.2 1163,178.5 1164,180.5M1164,180.5 1165,178.2 1166,175.6 1167,172.6 1168,169.4 1169,166.0 1170,162.4 1171,158.8 1172,155.3 1173,152.1 1174,149.2 1175,146.8 1176,145.0 1177,143.9 1178,143.5 1179,143.9 1180,145.0 1181,146.8 1182,149.2 1183,152.1 1184,155.3 1185,158.8 1186,162.4 1187,166.0 1188,169.4 1189,172.6 1190,175.6 1191,178.2 1192,180.5M1385,180.5 1386,180.3 1387,177.4 1388,174.2 1389,170.5 1390,166.6 1391,162.3 1392,158.0 1393,153.6 1394,149.4 1395,145.4 1396,141.9 1397,139.1 1398,137.0 1399,135.7 1400,135.3 1401,135.9 1402,137.3 1403,139.6 1404,142.6 1405,146.2 1406,150.2 1407,154.5 1408,158.8 1409,163.2 1410,167.4 1411,171.3 1412,174.8 1413,178.0 1414,180.5M1468,180.5 1469,179.8 1470,177.2 1471,174.3 1472,171.0 1473,167.4 1474,163.7 1475,159.8 1476,155.9 1477,152.2 1478,148.8 1479,145.8 1480,143.4 1481,141.7 1482,140.7 1483,140.5 1484,141.2 1485,142.6 1486,144.8 1487,147.5 1488,150.8 1489,154.4 1490,158.2 1491,162.1 1492,165.9 1493,169.6 1494,173.0 1495,176.1 1496,178.8 1497,180.5M1579,180.5 1580,178.5 1581,175.8 1582,172.9 1583,169.7 1584,166.3 1585,162.7 1586,159.1 1587,155.6 1588,152.2 1589,149.3 1590,146.8 1591,145.0 1592,143.8 1593,143.3 1594,143.6 1595,144.7 1596,146.4 1597,148.8 1598,151.6 1599,154.9 1600,158.4 1601,162.0 1602,165.5 1603,169.0 1604,172.3 1605,175.3 1606,178.0 1606.3,178.7" stroke="#1f2aa8"/>
<path d="M613,180.5 614,178.5 615,176.0 616,173.2 617,170.0 618,166.7 619,163.3 620,159.8 621,156.4 622,153.2 623,150.3 624,147.9 625,146.1 626,144.9 627,144.5 628,144.8 629,145.8 630,147.5 631,149.8 632,152.6 633,155.7 634,159.1 635,162.6 636,166.0 637,169.4 638,172.6 639,175.4 640,178.0 641,180.3 642,180.5M889,180.5 890,178.4 891,175.7 892,172.6 893,169.3 894,165.7 895,162.0 896,158.2 897,154.5 898,151.1 899,148.0 900,145.5 901,143.5 902,142.3 903,141.8 904,142.1 905,143.2 906,145.0 907,147.5 908,150.5 909,153.8 910,157.5 911,161.2 912,164.9 913,168.6 914,172.0 915,175.1 916,177.9 917,179.7 918,177.7 919,175.1 920,172.3 921,169.3 922,166.0 923,162.7 924,159.4 925,156.2 926,153.2 927,150.7 928,148.6 929,147.1 930,146.3 931,146.1 932,146.7 933,147.9 934,149.8 935,152.2 936,155.0 937,158.1 938,161.3 939,164.7 940,168.0 941,171.1 942,174.0 943,176.7 944,179.1 945,180.5M1027,180.5 1028,178.8 1029,176.6 1030,174.2 1031,171.5 1032,168.6 1033,165.7 1034,162.6 1035,159.7 1036,157.0 1037,154.5 1038,152.4 1039,150.9 1040,149.9 1041,149.5 1042,149.8 1043,150.6 1044,152.1 1045,154.1 1046,156.4 1047,159.1 1048,162.0 1049,165.0 1050,168.0 1051,170.9 1052,173.7 1053,176.1 1054,178.4 1055,180.3 1056,180.5M1219,180.5 1220,180.0 1221,178.5 1222,176.8 1223,174.9 1224,172.9 1225,170.7 1226,168.5 1227,166.3 1228,164.2 1229,162.3 1230,160.7 1231,159.3 1232,158.4 1233,157.9 1234,157.8 1235,158.3 1236,159.1 1237,160.4 1238,162.0 1239,163.8 1240,165.9 1241,168.1 1242,170.3 1243,172.4 1244,174.5 1245,176.4 1246,178.2 1247,179.7 1248,180.5M1413,180.5 1414,179.3 1415,176.4 1416,173.2 1417,169.7 1418,165.9 1419,161.9 1420,157.8 1421,153.7 1422,149.8 1423,146.3 1424,143.3 1425,140.8 1426,139.2 1427,138.3 1428,138.3 1429,139.2 1430,140.8 1431,143.3 1432,146.3 1433,149.8 1434,153.7 1435,157.8 1436,161.9 1437,165.9 1438,169.7 1439,173.2 1440,176.4 1441,179.3 1442,178.2 1443,175.2 1444,171.9 1445,168.2 1446,164.3 1447,160.2 1448,156.1 1449,152.1 1450,148.4 1451,145.0 1452,142.2 1453,140.1 1454,138.7 1455,138.2 1456,138.6 1457,139.7 1458,141.7 1459,144.4 1460,147.7 1461,151.4 1462,155.3 1463,159.4 1464,163.5 1465,167.4 1466,171.2 1467,174.6 1468,177.6 1469,180.3 1470,180.5M1496,180.5 1497,178.9 1498,176.4 1499,173.5 1500,170.4 1501,167.0 1502,163.4 1503,159.8 1504,156.2 1505,152.9 1506,149.9 1507,147.3 1508,145.3 1509,143.9 1510,143.3 1511,143.5 1512,144.4 1513,146.0 1514,148.2 1515,151.0 1516,154.2 1517,157.6 1518,161.2 1519,164.8 1520,168.3 1521,171.7 1522,174.7 1523,177.4 1524,179.6 1525,177.4 1526,174.2 1527,170.5 1528,166.6 1529,162.3 1530,158.0 1531,153.6 1532,149.4 1533,145.4 1534,141.9 1535,139.1 1536,137.0 1537,135.7 1538,135.3 1539,135.9 1540,137.3 1541,139.6 1542,142.6 1543,146.2 1544,150.2 1545,154.5 1546,158.8 1547,163.2 1548,167.4 1549,171.3 1550,174.8 1551,178.0 1552,179.2 1553,176.2 1554,172.7 1555,169.0 1556,164.9 1557,160.6 1558,156.2 1559,151.9 1560,147.7 1561,144.0 1562,140.7 1563,138.1 1564,136.3 1565,135.4 1566,135.4 1567,136.3 1568,138.1 1569,140.7 1570,144.0 1571,147.7 1572,151.9 1573,156.2 1574,160.6 1575,164.9 1576,169.0 1577,172.7 1578,176.2 1579,179.2 1580,180.5" stroke="#4fb03c"/>
</g>
<clipPath id="lc1"><rect x="579.5" y="174.8" width="1040" height="40"/></clipPath>
<g font-family="Liberation Sans, sans-serif" font-size="21.5" text-anchor="middle" clip-path="url(#lc1)">
<text x="599.5" y="199.8" fill="#737373">A</text>
<text x="627.1" y="199.8" fill="#737373">T</text>
<text x="654.7" y="199.8" fill="#737373">C</text>
<text x="682.3" y="199.8" fill="#737373">G</text>
<text x="709.9" y="199.8" fill="#737373">A</text>
<text x="737.5" y="199.8" fill="#737373">G</text>
<text x="765.1" y="199.8" fill="#737373">C</text>
<text x="792.7" y="199.8" fill="#737373">A</text>
<text x="820.3" y="199.8" fill="#737373">C</text>
<text x="847.9" y="199.8" fill="#737373">A</text>
<text x="875.5" y="199.8" fill="#737373">C</text>
<text x="903.1" y="199.8" fill="#737373">T</text>
<text x="930.7" y="199.8" fill="#737373">T</text>
<text x="958.3" y="199.8" fill="#737373">A</text>
<text x="985.9" y="199.8" fill="#737373">G</text>
<text x="1013.5" y="199.8" fill="#737373">G</text>
<text x="1041.1" y="199.8" fill="#737373">T</text>
<text x="1068.7" y="199.8" fill="#737373">A</text>
<text x="1096.3" y="199.8" fill="#737373">A</text>
<text x="1123.9" y="200.4" fill="#002a2a" font-size="21">A</text>
<text x="1151.5" y="199.8" fill="#737373">C</text>
<text x="1179.1" y="199.8" fill="#737373">C</text>
<text x="1206.7" y="199.8" fill="#737373">G</text>
<text x="1234.3" y="199.8" fill="#737373">T</text>
<text x="1261.9" y="199.8" fill="#737373">G</text>
<text x="1289.5" y="199.8" fill="#737373">G</text>
<text x="1317.1" y="199.8" fill="#737373">A</text>
<text x="1344.7" y="199.8" fill="#737373">G</text>
<text x="1372.3" y="199.8" fill="#737373">A</text>
<text x="1399.9" y="199.8" fill="#737373">C</text>
<text x="1427.5" y="199.8" fill="#737373">T</text>
<text x="1455.1" y="199.8" fill="#737373">T</text>
<text x="1482.7" y="199.8" fill="#737373">C</text>
<text x="1510.3" y="199.8" fill="#737373">T</text>
<text x="1537.9" y="199.8" fill="#737373">T</text>
<text x="1565.5" y="199.8" fill="#737373">T</text>
<text x="1593.1" y="199.8" fill="#737373">C</text>
</g>
<clipPath id="cl2"><rect x="578.3" y="263.0" width="1021.4" height="61.2"/></clipPath>
<rect x="1089.5" y="323.3" width="191.7" height="21.5" fill="#8ef0e4"/>
<line x1="578.3" y1="321.2" x2="1599.7" y2="321.2" stroke="#4a9e34" stroke-width="2.6"/>
<line x1="578.3" y1="321.2" x2="582.3" y2="321.2" stroke="#8a7444" stroke-width="2.6"/>
<line x1="837.3" y1="321.2" x2="864.3" y2="321.2" stroke="#8a7444" stroke-width="2.6"/>
<line x1="893.3" y1="321.2" x2="921.3" y2="321.2" stroke="#8a7444" stroke-width="2.6"/>
<line x1="1227.3" y1="321.2" x2="1255.3" y2="321.2" stroke="#8a7444" stroke-width="2.6"/>
<line x1="1340.3" y1="321.2" x2="1368.3" y2="321.2" stroke="#8a7444" stroke-width="2.6"/>
<g clip-path="url(#cl2)" fill="none" stroke-width="1.8" stroke-linejoin="round">
<path d="M583,321.2 584,319.9 585,317.1 586,313.9 587,310.3 588,306.5 589,302.4 590,298.3 591,294.2 592,290.2 593,286.7 594,283.6 595,281.2 596,279.5 597,278.6 598,278.6 599,279.5 600,281.2 601,283.6 602,286.7 603,290.2 604,294.2 605,298.3 606,302.4 607,306.5 608,310.3 609,313.9 610,317.1 611,319.9 612,321.2M638,321.2 639,320.1 640,317.1 641,313.7 642,309.8 643,305.7 644,301.3 645,296.9 646,292.4 647,288.2 648,284.3 649,280.9 650,278.2 651,276.3 652,275.3 653,275.2 654,276.0 655,277.8 656,280.3 657,283.6 658,287.4 659,291.6 660,296.0 661,300.5 662,304.8 663,309.0 664,312.9 665,316.4 666,319.6 667,321.2M667,321.2 668,320.7 669,318.1 670,315.1 671,311.8 672,308.2 673,304.4 674,300.4 675,296.5 676,292.6 677,289.1 678,286.0 679,283.5 680,281.6 681,280.6 682,280.3 683,280.9 684,282.3 685,284.4 686,287.2 687,290.5 688,294.1 689,298.0 690,302.0 691,305.9 692,309.7 693,313.2 694,316.4 695,319.2 696,321.2M947,321.2 948,320.4 949,318.3 950,315.8 951,313.1 952,310.1 953,307.0 954,303.8 955,300.7 956,297.6 957,294.9 958,292.5 959,290.5 960,289.2 961,288.4 962,288.4 963,289.0 964,290.2 965,292.0 966,294.3 967,297.1 968,300.1 969,303.2 970,306.4 971,309.5 972,312.5 973,315.3 974,317.8 975,320.0 976,321.2M1060,321.2 1061,319.3 1062,316.5 1063,313.4 1064,310.0 1065,306.4 1066,302.6 1067,298.7 1068,294.9 1069,291.4 1070,288.2 1071,285.5 1072,283.4 1073,282.1 1074,281.5 1075,281.8 1076,282.8 1077,284.6 1078,287.1 1079,290.1 1080,293.5 1081,297.2 1082,301.0 1083,304.9 1084,308.6 1085,312.1 1086,315.3 1087,318.2 1088,320.7 1089,321.2M1200,321.2 1201,318.6 1202,315.0 1203,310.8 1204,306.3 1205,301.4 1206,296.3 1207,291.2 1208,286.1 1209,281.4 1210,277.1 1211,273.5 1212,270.8 1213,269.0 1214,268.2 1215,268.5 1216,269.9 1217,272.3 1218,275.6 1219,279.6 1220,284.2 1221,289.1 1222,294.3 1223,299.4 1224,304.4 1225,309.0 1226,313.4 1227,317.2 1228,320.6 1229,321.2M1424,321.2 1425,318.8 1426,316.0 1427,312.9 1428,309.5 1429,305.8 1430,302.0 1431,298.2 1432,294.5 1433,291.1 1434,288.0 1435,285.5 1436,283.6 1437,282.4 1438,282.0 1439,282.4 1440,283.6 1441,285.5 1442,288.0 1443,291.1 1444,294.5 1445,298.2 1446,302.0 1447,305.8 1448,309.5 1449,312.9 1450,316.0 1451,318.8 1452,319.1 1453,316.0 1454,312.6 1455,308.8 1456,304.8 1457,300.6 1458,296.3 1459,292.1 1460,288.2 1461,284.6 1462,281.6 1463,279.3 1464,277.8 1465,277.2 1466,277.5 1467,278.6 1468,280.6 1469,283.4 1470,286.7 1471,290.5 1472,294.6 1473,298.8 1474,303.1 1475,307.2 1476,311.1 1477,314.7 1478,317.9 1479,320.7 1480,319.0 1481,316.4 1482,313.5 1483,310.4 1484,307.0 1485,303.6 1486,300.1 1487,296.7 1488,293.5 1489,290.7 1490,288.3 1491,286.6 1492,285.5 1493,285.1 1494,285.5 1495,286.6 1496,288.3 1497,290.7 1498,293.5 1499,296.7 1500,300.1 1501,303.6 1502,307.0 1503,310.4 1504,313.5 1505,316.4 1506,319.0 1507,321.2M1563,321.2 1564,319.6 1565,316.7 1566,313.3 1567,309.6 1568,305.6 1569,301.4 1570,297.1 1571,292.9 1572,288.9 1573,285.3 1574,282.2 1575,279.7 1576,278.1 1577,277.3 1578,277.4 1579,278.3 1580,280.2 1581,282.8 1582,286.0 1583,289.7 1584,293.8 1585,298.0 1586,302.3 1587,306.4 1588,310.4 1589,314.0 1590,317.3 1591,320.2 1592,321.2" stroke="#bdb23e"/>
<path d="M611,321.2 612,321.0 613,318.6 614,315.9 615,312.8 616,309.5 617,305.9 618,302.3 619,298.6 620,295.0 621,291.7 622,288.8 623,286.4 624,284.6 625,283.5 626,283.2 627,283.7 628,284.9 629,286.8 630,289.3 631,292.3 632,295.7 633,299.3 634,303.0 635,306.6 636,310.2 637,313.4 638,316.4 639,319.1 640,321.2M695,321.2 696,320.5 697,317.9 698,315.0 699,311.8 700,308.2 701,304.5 702,300.6 703,296.8 704,293.1 705,289.7 706,286.8 707,284.4 708,282.7 709,281.7 710,281.5 711,282.2 712,283.6 713,285.7 714,288.5 715,291.7 716,295.3 717,299.1 718,303.0 719,306.7 720,310.4 721,313.7 722,316.8 723,319.5 724,321.2M724,321.2 725,319.9 726,317.9 727,315.8 728,313.4 729,310.9 730,308.2 731,305.5 732,302.9 733,300.4 734,298.2 735,296.3 736,294.9 737,293.9 738,293.5 739,293.7 740,294.4 741,295.7 742,297.4 743,299.5 744,301.9 745,304.4 746,307.1 747,309.8 748,312.4 749,314.8 750,317.1 751,319.1 752,320.9 753,321.2M808,321.2 809,318.5 810,315.5 811,312.0 812,308.3 813,304.2 814,300.1 815,295.9 816,291.8 817,288.0 818,284.7 819,281.8 820,279.7 821,278.4 822,278.0 823,278.4 824,279.7 825,281.8 826,284.7 827,288.0 828,291.8 829,295.9 830,300.1 831,304.2 832,308.3 833,312.0 834,315.5 835,318.5 836,321.2M863,321.2 864,319.3 865,316.3 866,312.9 867,309.1 868,305.0 869,300.8 870,296.5 871,292.2 872,288.2 873,284.6 874,281.6 875,279.2 876,277.6 877,276.8 878,277.0 879,278.1 880,280.0 881,282.7 882,286.0 883,289.8 884,293.9 885,298.2 886,302.5 887,306.7 888,310.6 889,314.3 890,317.6 891,320.4 892,321.2M920,321.2 921,318.6 922,315.5 923,312.1 924,308.4 925,304.4 926,300.3 927,296.2 928,292.2 929,288.4 930,285.1 931,282.3 932,280.2 933,278.9 934,278.5 935,278.9 936,280.2 937,282.3 938,285.1 939,288.4 940,292.2 941,296.2 942,300.3 943,304.4 944,308.4 945,312.1 946,315.5 947,318.6 948,321.2M1003,321.2 1004,320.8 1005,318.9 1006,316.6 1007,314.1 1008,311.3 1009,308.4 1010,305.4 1011,302.4 1012,299.5 1013,296.8 1014,294.5 1015,292.5 1016,291.1 1017,290.3 1018,290.1 1019,290.6 1020,291.6 1021,293.2 1022,295.3 1023,297.8 1024,300.6 1025,303.6 1026,306.6 1027,309.6 1028,312.4 1029,315.1 1030,317.5 1031,319.7 1032,321.0 1033,318.1 1034,314.8 1035,311.1 1036,307.1 1037,302.9 1038,298.5 1039,294.1 1040,289.8 1041,285.8 1042,282.3 1043,279.4 1044,277.3 1045,276.0 1046,275.6 1047,276.2 1048,277.6 1049,279.9 1050,283.0 1051,286.6 1052,290.6 1053,294.9 1054,299.4 1055,303.7 1056,308.0 1057,311.9 1058,315.5 1059,318.7 1060,321.2M1087,321.2 1088,320.3 1089,318.4 1090,316.2 1091,313.7 1092,311.0 1093,308.3 1094,305.4 1095,302.6 1096,299.9 1097,297.4 1098,295.3 1099,293.6 1100,292.5 1101,291.9 1102,291.9 1103,292.5 1104,293.6 1105,295.3 1106,297.4 1107,299.9 1108,302.6 1109,305.4 1110,308.3 1111,311.0 1112,313.7 1113,316.2 1114,318.4 1115,320.3 1116,321.2M1256,321.2 1257,319.0 1258,316.4 1259,313.6 1260,310.5 1261,307.2 1262,303.7 1263,300.2 1264,296.9 1265,293.7 1266,290.9 1267,288.6 1268,286.8 1269,285.8 1270,285.4 1271,285.8 1272,286.8 1273,288.6 1274,290.9 1275,293.7 1276,296.9 1277,300.2 1278,303.7 1279,307.2 1280,310.5 1281,313.6 1282,316.4 1283,319.0 1284,318.9 1285,316.2 1286,313.1 1287,309.8 1288,306.3 1289,302.6 1290,298.9 1291,295.4 1292,292.0 1293,289.1 1294,286.6 1295,284.7 1296,283.6 1297,283.2 1298,283.6 1299,284.7 1300,286.6 1301,289.1 1302,292.0 1303,295.4 1304,298.9 1305,302.6 1306,306.3 1307,309.8 1308,313.1 1309,316.2 1310,318.9 1311,321.2M1537,321.2 1538,318.9 1539,315.6 1540,311.8 1541,307.7 1542,303.3 1543,298.8 1544,294.1 1545,289.6 1546,285.3 1547,281.5 1548,278.2 1549,275.7 1550,274.1 1551,273.4 1552,273.7 1553,275.0 1554,277.1 1555,280.1 1556,283.7 1557,287.8 1558,292.3 1559,296.9 1560,301.5 1561,306.0 1562,310.2 1563,314.1 1564,317.6 1565,320.7 1566,321.2" stroke="#c62a2f"/>
<path d="M752,321.2 753,318.5 754,315.3 755,311.8 756,307.9 757,303.8 758,299.5 759,295.2 760,291.0 761,287.1 762,283.6 763,280.8 764,278.6 765,277.3 766,276.8 767,277.3 768,278.6 769,280.8 770,283.6 771,287.1 772,291.0 773,295.2 774,299.5 775,303.8 776,307.9 777,311.8 778,315.3 779,318.5 780,320.2 781,317.2 782,313.9 783,310.3 784,306.3 785,302.1 786,297.8 787,293.5 788,289.4 789,285.7 790,282.4 791,279.8 792,278.0 793,277.0 794,276.9 795,277.7 796,279.4 797,281.8 798,285.0 799,288.6 800,292.7 801,296.9 802,301.2 803,305.5 804,309.5 805,313.2 806,316.6 807,319.6 808,321.2M974,321.2 975,317.1 976,312.4 977,307.2 978,301.4 979,295.3 980,288.9 981,282.5 982,276.3 983,270.5 984,265.4 985,261.1 986,257.9 987,255.9 988,255.2 989,255.9 990,257.9 991,261.1 992,265.4 993,270.5 994,276.3 995,282.5 996,288.9 997,295.3 998,301.4 999,307.2 1000,312.4 1001,317.1 1002,321.2M1115,321.2 1116,321.0 1117,318.5 1118,315.7 1119,312.5 1120,309.1 1121,305.4 1122,301.7 1123,297.9 1124,294.2 1125,290.8 1126,287.8 1127,285.3 1128,283.4 1129,282.3 1130,282.0 1131,282.5 1132,283.7 1133,285.7 1134,288.3 1135,291.4 1136,294.9 1137,298.6 1138,302.4 1139,306.2 1140,309.8 1141,313.2 1142,316.3 1143,317.7 1144,316.8 1145,313.3 1146,309.4 1147,305.3 1148,300.9 1149,296.4 1150,292.0 1151,287.8 1152,283.9 1153,280.6 1154,278.0 1155,276.2 1156,275.2 1157,275.2 1158,276.2 1159,278.0 1160,280.6 1161,283.9 1162,287.8 1163,292.0 1164,296.4 1165,300.9 1166,305.3 1167,309.4 1168,313.3 1169,316.8 1170,319.8 1171,321.2M1171,321.2 1172,320.9 1173,319.5 1174,317.8 1175,315.9 1176,313.9 1177,311.8 1178,309.6 1179,307.3 1180,305.2 1181,303.2 1182,301.5 1183,300.1 1184,299.1 1185,298.5 1186,298.3 1187,298.6 1188,299.4 1189,300.6 1190,302.2 1191,304.0 1192,306.1 1193,308.2 1194,310.5 1195,312.6 1196,314.8 1197,316.7 1198,318.5 1199,320.1 1200,321.2M1310,321.2 1311,319.8 1312,317.7 1313,315.4 1314,312.9 1315,310.2 1316,307.4 1317,304.5 1318,301.8 1319,299.1 1320,296.8 1321,294.8 1322,293.2 1323,292.2 1324,291.8 1325,292.0 1326,292.8 1327,294.1 1328,295.9 1329,298.1 1330,300.7 1331,303.4 1332,306.3 1333,309.1 1334,311.9 1335,314.5 1336,316.8 1337,319.0 1338,320.9 1339,321.2M1368,321.2 1369,320.5 1370,318.0 1371,315.1 1372,311.9 1373,308.4 1374,304.7 1375,300.9 1376,297.1 1377,293.5 1378,290.1 1379,287.2 1380,284.8 1381,283.2 1382,282.2 1383,282.0 1384,282.7 1385,284.1 1386,286.2 1387,288.9 1388,292.1 1389,295.6 1390,299.4 1391,303.2 1392,306.9 1393,310.5 1394,313.8 1395,316.9 1396,318.9 1397,318.4 1398,315.8 1399,313.0 1400,309.9 1401,306.6 1402,303.3 1403,299.9 1404,296.7 1405,293.8 1406,291.2 1407,289.1 1408,287.6 1409,286.8 1410,286.6 1411,287.2 1412,288.4 1413,290.3 1414,292.7 1415,295.5 1416,298.6 1417,301.9 1418,305.3 1419,308.6 1420,311.8 1421,314.7 1422,317.4 1423,319.7 1424,321.2M1509,321.2 1510,318.8 1511,315.4 1512,311.5 1513,307.3 1514,302.7 1515,298.0 1516,293.2 1517,288.5 1518,284.0 1519,280.1 1520,276.7 1521,274.1 1522,272.4 1523,271.7 1524,272.0 1525,273.3 1526,275.6 1527,278.6 1528,282.4 1529,286.6 1530,291.3 1531,296.0 1532,300.8 1533,305.5 1534,309.8 1535,313.9 1536,317.5 1537,320.6 1538,321.2M1589,321.2 1590,319.6 1591,316.1 1592,312.1 1593,307.7 1594,302.9 1595,297.9 1596,292.7 1597,287.6 1598,282.8 1599,278.4 1599.7,275.6" stroke="#1f2aa8"/>
<path d="M578.3,313.0 579,314.8 580,317.2 581,319.3 582,321.2M836,321.2 837,319.8 838,317.6 839,315.0 840,312.2 841,309.2 842,306.1 843,302.9 844,299.7 845,296.8 846,294.1 847,291.8 848,290.0 849,288.9 850,288.3 851,288.5 852,289.3 853,290.7 854,292.7 855,295.1 856,297.9 857,301.0 858,304.2 859,307.3 860,310.4 861,313.4 862,316.1 863,318.5 864,320.6 865,321.2M893,321.2 894,319.2 895,316.9 896,314.3 897,311.5 898,308.5 899,305.4 900,302.3 901,299.2 902,296.4 903,293.9 904,291.8 905,290.2 906,289.2 907,288.9 908,289.2 909,290.2 910,291.8 911,293.9 912,296.4 913,299.2 914,302.3 915,305.4 916,308.5 917,311.5 918,314.3 919,316.9 920,319.2 921,321.2M1226,321.2 1227,320.8 1228,318.5 1229,315.9 1230,313.0 1231,309.8 1232,306.5 1233,303.0 1234,299.5 1235,296.2 1236,293.1 1237,290.4 1238,288.2 1239,286.6 1240,285.6 1241,285.4 1242,285.9 1243,287.1 1244,289.0 1245,291.4 1246,294.3 1247,297.5 1248,300.9 1249,304.4 1250,307.8 1251,311.1 1252,314.2 1253,317.0 1254,319.5 1255,321.2M1339,321.2 1340,320.6 1341,316.9 1342,312.7 1343,308.1 1344,303.0 1345,297.6 1346,292.1 1347,286.5 1348,281.2 1349,276.3 1350,271.9 1351,268.4 1352,265.8 1353,264.3 1354,263.9 1355,264.7 1356,266.7 1357,269.7 1358,273.6 1359,278.2 1360,283.3 1361,288.7 1362,294.3 1363,299.8 1364,305.1 1365,310.0 1366,314.4 1367,318.4 1368,321.2" stroke="#4fb03c"/>
</g>
<clipPath id="lc2"><rect x="579.5" y="316.3" width="1040" height="40"/></clipPath>
<g font-family="Liberation Sans, sans-serif" font-size="21.5" text-anchor="middle" clip-path="url(#lc2)">
<text x="600.0" y="341.3" fill="#737373">G</text>
<text x="628.0" y="341.3" fill="#737373">A</text>
<text x="656.1" y="341.3" fill="#737373">G</text>
<text x="684.1" y="341.3" fill="#737373">G</text>
<text x="712.2" y="341.3" fill="#737373">A</text>
<text x="740.2" y="341.3" fill="#737373">A</text>
<text x="768.3" y="341.3" fill="#737373">C</text>
<text x="796.4" y="341.3" fill="#737373">C</text>
<text x="824.4" y="341.3" fill="#737373">A</text>
<text x="852.5" y="341.3" fill="#737373">T</text>
<text x="880.5" y="341.3" fill="#737373">A</text>
<text x="908.5" y="341.3" fill="#737373">T</text>
<text x="936.6" y="341.3" fill="#737373">A</text>
<text x="964.7" y="341.3" fill="#737373">G</text>
<text x="992.7" y="341.3" fill="#737373">C</text>
<text x="1020.8" y="341.3" fill="#737373">A</text>
<text x="1048.8" y="341.3" fill="#737373">A</text>
<text x="1076.8" y="341.3" fill="#737373">G</text>
<text x="1101.5" y="346.6" fill="#0e3a33" font-size="23" stroke="#0e3a33" stroke-width="0.7">A</text>
<text x="1128.2" y="346.6" fill="#0e3a33" font-size="23" stroke="#0e3a33" stroke-width="0.7">C</text>
<text x="1154.8" y="346.6" fill="#0e3a33" font-size="23" stroke="#0e3a33" stroke-width="0.7">C</text>
<text x="1184.0" y="346.6" fill="#0e3a33" font-size="23" stroke="#0e3a33" stroke-width="0.7">C</text>
<text x="1211.6" y="346.6" fill="#0e3a33" font-size="23" stroke="#0e3a33" stroke-width="0.7">G</text>
<text x="1239.1" y="346.6" fill="#0e3a33" font-size="23" stroke="#0e3a33" stroke-width="0.7">T</text>
<text x="1264.9" y="346.6" fill="#0e3a33" font-size="23" stroke="#0e3a33" stroke-width="0.7">A</text>
<text x="1301.2" y="341.3" fill="#737373">A</text>
<text x="1329.3" y="341.3" fill="#737373">C</text>
<text x="1357.3" y="341.3" fill="#737373">T</text>
<text x="1385.4" y="341.3" fill="#737373">C</text>
<text x="1413.5" y="341.3" fill="#737373">C</text>
<text x="1441.5" y="341.3" fill="#737373">G</text>
<text x="1469.6" y="341.3" fill="#737373">G</text>
<text x="1497.6" y="341.3" fill="#737373">G</text>
<text x="1525.7" y="341.3" fill="#737373">C</text>
<text x="1553.7" y="341.3" fill="#737373">A</text>
<text x="1581.8" y="341.3" fill="#737373">G</text>
</g>
<clipPath id="cl3"><rect x="578.3" y="340.5" width="1021.4" height="83.0"/></clipPath>
<rect x="1090.0" y="424.3" width="196.4" height="17.4" fill="#e8a6a6"/>
<rect x="1099.6" y="431.9" width="9" height="2" fill="#111"/>
<rect x="1127.7" y="431.9" width="9" height="2" fill="#111"/>
<rect x="1155.8" y="431.9" width="9" height="2" fill="#111"/>
<rect x="1183.8" y="431.9" width="9" height="2" fill="#111"/>
<rect x="1211.9" y="431.9" width="9" height="2" fill="#111"/>
<rect x="1240.0" y="431.9" width="9" height="2" fill="#111"/>
<rect x="1268.1" y="431.9" width="9" height="2" fill="#111"/>
<line x1="578.3" y1="420.5" x2="1086.3" y2="420.5" stroke="#4a9e34" stroke-width="2.6"/>
<line x1="578.3" y1="420.5" x2="582.3" y2="420.5" stroke="#8a7444" stroke-width="2.6"/>
<line x1="835.3" y1="420.5" x2="863.3" y2="420.5" stroke="#8a7444" stroke-width="2.6"/>
<line x1="893.3" y1="420.5" x2="921.3" y2="420.5" stroke="#8a7444" stroke-width="2.6"/>
<line x1="1284.7" y1="420.5" x2="1599.7" y2="420.5" stroke="#4a9e34" stroke-width="2.6"/>
<line x1="1340.7" y1="420.5" x2="1368.7" y2="420.5" stroke="#8a7444" stroke-width="2.6"/>
<g clip-path="url(#cl3)" fill="none" stroke-width="1.8" stroke-linejoin="round">
<path d="M581,420.5 582,420.0 583,417.2 584,414.1 585,410.6 586,406.7 587,402.7 588,398.5 589,394.3 590,390.3 591,386.5 592,383.3 593,380.6 594,378.6 595,377.5 596,377.2 597,377.8 598,379.3 599,381.6 600,384.5 601,388.0 602,391.9 603,396.0 604,400.2 605,404.3 606,408.3 607,412.0 608,415.4 609,418.4 610,420.5M638,420.5 639,419.4 640,416.4 641,412.9 642,409.1 643,404.9 644,400.5 645,396.0 646,391.6 647,387.3 648,383.4 649,380.0 650,377.2 651,375.3 652,374.3 653,374.2 654,375.0 655,376.8 656,379.4 657,382.6 658,386.5 659,390.7 660,395.1 661,399.6 662,404.0 663,408.3 664,412.2 665,415.7 666,418.8 667,420.5M667,420.5 668,420.0 669,417.4 670,414.4 671,411.0 672,407.4 673,403.5 674,399.5 675,395.5 676,391.7 677,388.1 678,385.0 679,382.4 680,380.6 681,379.5 682,379.2 683,379.8 684,381.2 685,383.4 686,386.2 687,389.5 688,393.2 689,397.1 690,401.1 691,405.1 692,408.9 693,412.4 694,415.6 695,418.5 696,420.5M948,420.5 949,419.3 950,417.1 951,414.6 952,411.9 953,408.9 954,405.8 955,402.6 956,399.5 957,396.5 958,393.8 959,391.5 960,389.7 961,388.5 962,387.9 963,387.9 964,388.7 965,390.0 966,391.9 967,394.3 968,397.1 969,400.1 970,403.2 971,406.4 972,409.5 973,412.4 974,415.1 975,417.6 976,419.7 977,420.5M1057,420.5 1058,419.8 1059,417.0 1060,413.8 1061,410.3 1062,406.5 1063,402.5 1064,398.4 1065,394.3 1066,390.3 1067,386.7 1068,383.5 1069,380.9 1070,379.1 1071,378.0 1072,377.8 1073,378.5 1074,380.1 1075,382.4 1076,385.3 1077,388.8 1078,392.7 1079,396.7 1080,400.9 1081,405.0 1082,408.9 1083,412.5 1084,415.8 1085,418.7 1086,420.5M1424,420.5 1425,419.0 1426,416.3 1427,413.2 1428,409.7 1429,406.0 1430,402.1 1431,398.1 1432,394.2 1433,390.5 1434,387.1 1435,384.2 1436,382.0 1437,380.4 1438,379.7 1439,379.8 1440,380.7 1441,382.4 1442,384.8 1443,387.8 1444,391.2 1445,395.0 1446,398.9 1447,402.9 1448,406.8 1449,410.4 1450,413.8 1451,416.9 1452,419.3 1453,417.4 1454,414.2 1455,410.6 1456,406.7 1457,402.5 1458,398.2 1459,393.9 1460,389.7 1461,385.8 1462,382.4 1463,379.5 1464,377.4 1465,376.2 1466,375.8 1467,376.4 1468,377.8 1469,380.0 1470,383.0 1471,386.6 1472,390.5 1473,394.8 1474,399.1 1475,403.4 1476,407.5 1477,411.4 1478,414.9 1479,418.0 1480,420.5M1480,420.5 1481,420.1 1482,417.6 1483,414.7 1484,411.5 1485,408.0 1486,404.4 1487,400.6 1488,396.8 1489,393.1 1490,389.8 1491,386.8 1492,384.4 1493,382.6 1494,381.6 1495,381.3 1496,381.9 1497,383.2 1498,385.3 1499,387.9 1500,391.1 1501,394.6 1502,398.3 1503,402.1 1504,405.9 1505,409.5 1506,412.8 1507,415.9 1508,418.6 1509,420.5M1564,420.5 1565,418.3 1566,415.1 1567,411.5 1568,407.5 1569,403.3 1570,398.9 1571,394.4 1572,390.0 1573,385.9 1574,382.2 1575,379.1 1576,376.6 1577,375.1 1578,374.4 1579,374.7 1580,375.9 1581,378.0 1582,380.8 1583,384.3 1584,388.3 1585,392.6 1586,397.1 1587,401.5 1588,405.9 1589,409.9 1590,413.7 1591,417.0 1592,420.0 1593,420.5" stroke="#bdb23e"/>
<path d="M611,420.5 612,420.3 613,418.0 614,415.4 615,412.5 616,409.4 617,406.0 618,402.5 619,399.0 620,395.6 621,392.5 622,389.7 623,387.4 624,385.7 625,384.7 626,384.4 627,384.8 628,386.0 629,387.8 630,390.2 631,393.1 632,396.3 633,399.7 634,403.2 635,406.7 636,410.0 637,413.1 638,416.0 639,418.5 640,420.5M695,420.5 696,418.9 697,416.3 698,413.3 699,410.1 700,406.6 701,402.9 702,399.2 703,395.6 704,392.1 705,389.0 706,386.4 707,384.3 708,383.0 709,382.3 710,382.5 711,383.4 712,385.1 713,387.4 714,390.2 715,393.5 716,397.0 717,400.7 718,404.4 719,408.0 720,411.4 721,414.5 722,417.4 723,419.8 724,420.0 725,418.0 726,415.7 727,413.1 728,410.4 729,407.4 730,404.4 731,401.5 732,398.6 733,395.9 734,393.6 735,391.8 736,390.4 737,389.7 738,389.5 739,390.0 740,391.1 741,392.8 742,395.0 743,397.5 744,400.3 745,403.2 746,406.3 747,409.2 748,412.0 749,414.7 750,417.1 751,419.2 752,420.5M808,420.5 809,417.8 810,414.8 811,411.4 812,407.6 813,403.6 814,399.5 815,395.3 816,391.3 817,387.5 818,384.1 819,381.3 820,379.2 821,377.9 822,377.5 823,377.9 824,379.2 825,381.3 826,384.1 827,387.5 828,391.3 829,395.3 830,399.5 831,403.6 832,407.6 833,411.4 834,414.8 835,417.8 836,420.5M863,420.5 864,418.7 865,415.7 866,412.4 867,408.7 868,404.7 869,400.6 870,396.4 871,392.3 872,388.4 873,384.8 874,381.8 875,379.5 876,377.9 877,377.2 878,377.4 879,378.5 880,380.3 881,383.0 882,386.2 883,389.9 884,393.9 885,398.1 886,402.3 887,406.3 888,410.2 889,413.8 890,416.9 891,419.8 892,420.5M920,420.5 921,418.0 922,415.1 923,411.8 924,408.2 925,404.5 926,400.5 927,396.5 928,392.7 929,389.1 930,385.9 931,383.2 932,381.3 933,380.0 934,379.6 935,380.0 936,381.3 937,383.2 938,385.9 939,389.1 940,392.7 941,396.5 942,400.5 943,404.5 944,408.2 945,411.8 946,415.1 947,418.0 948,420.5M1004,420.5 1005,418.1 1006,415.3 1007,412.2 1008,408.8 1009,405.1 1010,401.3 1011,397.5 1012,393.8 1013,390.4 1014,387.3 1015,384.8 1016,382.9 1017,381.7 1018,381.3 1019,381.7 1020,382.9 1021,384.8 1022,387.3 1023,390.4 1024,393.8 1025,397.5 1026,401.3 1027,405.1 1028,408.8 1029,412.2 1030,415.3 1031,418.1 1032,420.3 1033,417.9 1034,415.2 1035,412.2 1036,408.8 1037,405.3 1038,401.7 1039,398.0 1040,394.5 1041,391.2 1042,388.3 1043,385.9 1044,384.1 1045,383.0 1046,382.7 1047,383.2 1048,384.4 1049,386.3 1050,388.8 1051,391.8 1052,395.1 1053,398.7 1054,402.4 1055,406.0 1056,409.5 1057,412.8 1058,415.8 1059,418.4 1060,420.5M1284.7,416.1 1285,415.2 1286,412.1 1287,408.6 1288,405.0 1289,401.1 1290,397.3 1291,393.6 1292,390.1 1293,387.0 1294,384.4 1295,382.5 1296,381.3 1297,380.9 1298,381.3 1299,382.5 1300,384.4 1301,387.0 1302,390.1 1303,393.6 1304,397.3 1305,401.1 1306,405.0 1307,408.6 1308,412.1 1309,415.2 1310,418.1 1311,420.5M1537,420.5 1538,418.1 1539,414.7 1540,410.8 1541,406.6 1542,402.0 1543,397.3 1544,392.5 1545,387.8 1546,383.3 1547,379.4 1548,376.0 1549,373.4 1550,371.7 1551,371.0 1552,371.3 1553,372.6 1554,374.9 1555,377.9 1556,381.7 1557,385.9 1558,390.6 1559,395.3 1560,400.1 1561,404.8 1562,409.1 1563,413.2 1564,416.8 1565,419.9 1566,420.5" stroke="#c62a2f"/>
<path d="M751,420.5 752,419.7 753,416.9 754,413.6 755,409.9 756,406.0 757,401.8 758,397.5 759,393.2 760,389.1 761,385.3 762,382.0 763,379.3 764,377.4 765,376.3 766,376.1 767,376.9 768,378.5 769,380.9 770,383.9 771,387.5 772,391.5 773,395.8 774,400.1 775,404.3 776,408.4 777,412.2 778,415.6 779,418.6 780,418.5 781,415.4 782,411.8 783,407.8 784,403.6 785,399.2 786,394.7 787,390.2 788,386.1 789,382.3 790,379.1 791,376.6 792,374.9 793,374.1 794,374.3 795,375.5 796,377.5 797,380.3 798,383.7 799,387.7 800,392.0 801,396.5 802,401.0 803,405.3 804,409.5 805,413.3 806,416.7 807,419.7 808,420.5M973,420.5 974,418.5 975,414.9 976,410.7 977,406.1 978,401.1 979,395.9 980,390.6 981,385.3 982,380.4 983,375.9 984,372.0 985,369.0 986,366.9 987,365.9 988,366.0 989,367.2 990,369.5 991,372.7 992,376.7 993,381.3 994,386.4 995,391.6 996,396.9 997,402.1 998,407.0 999,411.5 1000,415.6 1001,419.2 1002,420.5M1312,420.5 1313,420.2 1314,418.3 1315,416.1 1316,413.7 1317,411.1 1318,408.3 1319,405.5 1320,402.6 1321,399.8 1322,397.3 1323,395.0 1324,393.2 1325,391.9 1326,391.1 1327,390.9 1328,391.3 1329,392.3 1330,393.9 1331,395.9 1332,398.3 1333,400.9 1334,403.7 1335,406.6 1336,409.4 1337,412.2 1338,414.7 1339,417.0 1340,419.1 1341,420.5M1368,420.5 1369,419.8 1370,417.3 1371,414.4 1372,411.2 1373,407.7 1374,404.0 1375,400.2 1376,396.4 1377,392.8 1378,389.4 1379,386.5 1380,384.1 1381,382.5 1382,381.5 1383,381.3 1384,382.0 1385,383.4 1386,385.5 1387,388.2 1388,391.4 1389,394.9 1390,398.7 1391,402.5 1392,406.2 1393,409.8 1394,413.1 1395,416.2 1396,416.9 1397,416.0 1398,413.1 1399,410.0 1400,406.7 1401,403.2 1402,399.7 1403,396.3 1404,393.1 1405,390.2 1406,387.8 1407,386.0 1408,384.8 1409,384.4 1410,384.7 1411,385.7 1412,387.4 1413,389.7 1414,392.5 1415,395.6 1416,399.0 1417,402.5 1418,406.0 1419,409.4 1420,412.5 1421,415.4 1422,418.0 1423,420.3 1424,420.5M1509,420.5 1510,419.7 1511,416.6 1512,413.1 1513,409.1 1514,404.9 1515,400.4 1516,395.7 1517,391.1 1518,386.7 1519,382.6 1520,379.1 1521,376.2 1522,374.1 1523,372.9 1524,372.7 1525,373.5 1526,375.2 1527,377.8 1528,381.1 1529,385.0 1530,389.3 1531,393.9 1532,398.5 1533,403.1 1534,407.5 1535,411.5 1536,415.2 1537,418.5 1538,420.5M1589,420.5 1590,419.0 1591,415.6 1592,411.7 1593,407.5 1594,402.9 1595,398.0 1596,393.1 1597,388.2 1598,383.5 1599,379.3 1599.7,376.6" stroke="#1f2aa8"/>
<path d="M578.3,412.3 579,414.1 580,416.5 581,418.6 582,420.5M834,420.5 835,420.3 836,418.4 837,416.1 838,413.6 839,410.8 840,407.9 841,404.9 842,401.9 843,398.9 844,396.2 845,393.8 846,391.8 847,390.3 848,389.5 849,389.2 850,389.6 851,390.6 852,392.2 853,394.2 854,396.7 855,399.5 856,402.5 857,405.5 858,408.5 859,411.4 860,414.1 861,416.6 862,418.8 863,420.5M892,420.5 893,419.5 894,417.4 895,414.9 896,412.2 897,409.2 898,406.1 899,402.9 900,399.8 901,396.8 902,394.1 903,391.7 904,389.8 905,388.5 906,387.9 907,387.9 908,388.5 909,389.8 910,391.7 911,394.1 912,396.8 913,399.8 914,402.9 915,406.1 916,409.2 917,412.2 918,414.9 919,417.4 920,419.5 921,420.5M1340,420.5 1341,416.6 1342,412.2 1343,407.2 1344,401.7 1345,395.9 1346,389.8 1347,383.7 1348,377.8 1349,372.3 1350,367.4 1351,363.3 1352,360.2 1353,358.3 1354,357.7 1355,358.3 1356,360.2 1357,363.3 1358,367.4 1359,372.3 1360,377.8 1361,383.7 1362,389.8 1363,395.9 1364,401.7 1365,407.2 1366,412.2 1367,416.6 1368,420.5" stroke="#4fb03c"/>
</g>
<clipPath id="lc3"><rect x="579.5" y="415.3" width="1040" height="40"/></clipPath>
<g font-family="Liberation Sans, sans-serif" font-size="21.5" text-anchor="middle" clip-path="url(#lc3)">
<text x="600.0" y="440.3" fill="#737373">G</text>
<text x="628.0" y="440.3" fill="#737373">A</text>
<text x="656.1" y="440.3" fill="#737373">G</text>
<text x="684.1" y="440.3" fill="#737373">G</text>
<text x="712.2" y="440.3" fill="#737373">A</text>
<text x="740.2" y="440.3" fill="#737373">A</text>
<text x="768.3" y="440.3" fill="#737373">C</text>
<text x="796.4" y="440.3" fill="#737373">C</text>
<text x="824.4" y="440.3" fill="#737373">A</text>
<text x="852.5" y="440.3" fill="#737373">T</text>
<text x="880.5" y="440.3" fill="#737373">A</text>
<text x="908.5" y="440.3" fill="#737373">T</text>
<text x="936.6" y="440.3" fill="#737373">A</text>
<text x="964.7" y="440.3" fill="#737373">G</text>
<text x="992.7" y="440.3" fill="#737373">C</text>
<text x="1020.8" y="440.3" fill="#737373">A</text>
<text x="1048.8" y="440.3" fill="#737373">A</text>
<text x="1076.8" y="440.3" fill="#737373">G</text>
<text x="1301.2" y="440.3" fill="#737373">A</text>
<text x="1329.3" y="440.3" fill="#737373">C</text>
<text x="1357.3" y="440.3" fill="#737373">T</text>
<text x="1385.4" y="440.3" fill="#737373">C</text>
<text x="1413.5" y="440.3" fill="#737373">C</text>
<text x="1441.5" y="440.3" fill="#737373">G</text>
<text x="1469.6" y="440.3" fill="#737373">G</text>
<text x="1497.6" y="440.3" fill="#737373">G</text>
<text x="1525.7" y="440.3" fill="#737373">C</text>
<text x="1553.7" y="440.3" fill="#737373">A</text>
<text x="1581.8" y="440.3" fill="#737373">G</text>
</g>
<clipPath id="cl4"><rect x="580.0" y="470.7" width="1019.7" height="83.0"/></clipPath>
<rect x="989.3" y="554.1" width="196.5" height="17.7" fill="#8ef4f2"/>
<line x1="580.0" y1="550.7" x2="787.6" y2="550.7" stroke="#4a9e34" stroke-width="2.6"/>
<line x1="707.0" y1="550.7" x2="734.0" y2="550.7" stroke="#8a7444" stroke-width="2.6"/>
<line x1="762.0" y1="550.7" x2="787.0" y2="550.7" stroke="#8a7444" stroke-width="2.6"/>
<line x1="791.0" y1="550.7" x2="1124.4" y2="550.7" stroke="#4a9e34" stroke-width="2.6"/>
<line x1="1099.0" y1="550.7" x2="1124.0" y2="550.7" stroke="#8a7444" stroke-width="2.6"/>
<line x1="1129.9" y1="550.7" x2="1323.4" y2="550.7" stroke="#4a9e34" stroke-width="2.6"/>
<line x1="1326.0" y1="550.7" x2="1599.7" y2="550.7" stroke="#4a9e34" stroke-width="2.6"/>
<g clip-path="url(#cl4)" fill="none" stroke-width="1.8" stroke-linejoin="round">
<path d="M816,550.7 817,550.0 818,547.9 819,545.6 820,543.0 821,540.2 822,537.2 823,534.2 824,531.2 825,528.3 826,525.6 827,523.4 828,521.5 829,520.2 830,519.5 831,519.5 832,520.0 833,521.2 834,522.9 835,525.2 836,527.7 837,530.6 838,533.6 839,536.6 840,539.6 841,542.4 842,545.1 843,547.5 844,549.6 845,550.7M928,550.7 929,550.0 930,547.6 931,544.8 932,541.7 933,538.3 934,534.8 935,531.1 936,527.5 937,524.0 938,520.7 939,517.9 940,515.6 941,514.0 942,513.1 943,512.9 944,513.6 945,514.9 946,516.9 947,519.6 948,522.6 949,526.1 950,529.7 951,533.3 952,536.9 953,540.4 954,543.6 955,546.5 956,549.1 957,550.7M1071,550.7 1072,547.6 1073,544.1 1074,540.1 1075,535.8 1076,531.1 1077,526.3 1078,521.5 1079,516.8 1080,512.4 1081,508.5 1082,505.2 1083,502.8 1084,501.3 1085,500.8 1086,501.3 1087,502.8 1088,505.2 1089,508.5 1090,512.4 1091,516.8 1092,521.5 1093,526.3 1094,531.1 1095,535.8 1096,540.1 1097,544.1 1098,547.6 1099,550.7M1154,550.7 1155,549.5 1156,546.1 1157,542.3 1158,538.0 1159,533.4 1160,528.5 1161,523.5 1162,518.5 1163,513.8 1164,509.4 1165,505.6 1166,502.6 1167,500.4 1168,499.3 1169,499.2 1170,500.1 1171,502.1 1172,504.9 1173,508.6 1174,512.8 1175,517.5 1176,522.5 1177,527.5 1178,532.4 1179,537.1 1180,541.4 1181,545.4 1182,548.9 1183,550.7M1296,550.7 1297,549.3 1298,546.1 1299,542.5 1300,538.5 1301,534.2 1302,529.7 1303,525.0 1304,520.4 1305,516.1 1306,512.1 1307,508.6 1308,505.9 1309,504.0 1310,503.0 1311,503.0 1312,504.0 1313,505.9 1314,508.6 1315,512.1 1316,516.1 1317,520.4 1318,525.0 1319,529.7 1320,534.2 1321,538.5 1322,542.5 1323,546.1 1323.4,547.4M1326,547.7 1327,544.5 1328,540.9 1329,537.0 1330,532.9 1331,528.6 1332,524.3 1333,520.1 1334,516.2 1335,512.8 1336,510.0 1337,507.9 1338,506.7 1339,506.3 1340,506.8 1341,508.3 1342,510.5 1343,513.5 1344,517.0 1345,520.9 1346,525.1 1347,529.4 1348,533.7 1349,537.8 1350,541.6 1351,545.1 1352,547.1 1353,547.0 1354,544.1 1355,541.0 1356,537.5 1357,533.9 1358,530.2 1359,526.5 1360,523.0 1361,519.8 1362,517.1 1363,514.9 1364,513.4 1365,512.6 1366,512.6 1367,513.4 1368,514.9 1369,517.1 1370,519.8 1371,523.0 1372,526.5 1373,530.2 1374,533.9 1375,537.5 1376,541.0 1377,544.1 1378,547.0 1379,549.6 1380,550.7M1436,550.7 1437,547.9 1438,544.8 1439,541.2 1440,537.3 1441,533.2 1442,528.9 1443,524.5 1444,520.3 1445,516.4 1446,512.9 1447,510.0 1448,507.8 1449,506.5 1450,506.0 1451,506.5 1452,507.8 1453,510.0 1454,512.9 1455,516.4 1456,520.3 1457,524.5 1458,528.9 1459,533.2 1460,537.3 1461,541.2 1462,544.8 1463,547.9 1464,550.7" stroke="#bdb23e"/>
<path d="M580,495.0 581,497.9 582,501.6 583,506.2 584,511.3 585,516.7 586,522.4 587,527.9 588,533.3 589,538.4 590,543.0 591,547.1 592,550.7M593,550.7 594,547.9 595,544.7 596,541.1 597,537.2 598,533.0 599,528.7 600,524.3 601,520.1 602,516.1 603,512.6 604,509.7 605,507.5 606,506.2 607,505.7 608,506.2 609,507.5 610,509.7 611,512.6 612,516.1 613,520.1 614,524.3 615,528.7 616,533.0 617,537.2 618,541.1 619,544.7 620,547.9 621,550.7M622,550.7 623,547.8 624,543.7 625,539.1 626,534.0 627,528.6 628,522.9 629,517.1 630,511.5 631,506.2 632,501.4 633,497.4 634,494.3 635,492.3 636,491.4 637,491.8 638,493.3 639,496.0 640,499.7 641,504.2 642,509.3 643,514.8 644,520.6 645,526.3 646,531.9 647,537.1 648,541.9 649,546.2 650,550.0 651,550.7M679,550.7 680,547.0 681,542.8 682,538.1 683,532.9 684,527.4 685,521.7 686,516.0 687,510.4 688,505.2 689,500.5 690,496.7 691,493.8 692,492.0 693,491.4 694,492.0 695,493.8 696,496.7 697,500.5 698,505.2 699,510.4 700,516.0 701,521.7 702,527.4 703,532.9 704,538.1 705,542.8 706,547.0 707,550.7M734,550.7 735,550.4 736,546.4 737,541.9 738,536.8 739,531.3 740,525.5 741,519.4 742,513.3 743,507.4 744,502.0 745,497.1 746,493.1 747,490.2 748,488.4 749,487.9 750,488.7 751,490.7 752,493.9 753,498.0 754,503.0 755,508.6 756,514.5 757,520.6 758,526.7 759,532.5 760,537.9 761,542.8 762,547.2 763,550.7M791,545.2 792,541.9 793,538.3 794,534.5 795,530.5 796,526.5 797,522.6 798,519.0 799,515.8 800,513.1 801,511.1 802,509.8 803,509.4 804,509.8 805,511.1 806,513.1 807,515.8 808,519.0 809,522.6 810,526.5 811,530.5 812,534.5 813,538.3 814,541.9 815,545.2 816,548.2 817,550.7M874,550.7 875,550.1 876,548.8 877,547.3 878,545.6 879,543.9 880,542.0 881,540.1 882,538.2 883,536.3 884,534.7 885,533.3 886,532.1 887,531.4 888,531.0 889,531.0 890,531.4 891,532.1 892,533.3 893,534.7 894,536.3 895,538.2 896,540.1 897,542.0 898,543.9 899,545.6 900,547.3 901,546.9 902,545.2 903,542.4 904,538.6 905,534.5 906,530.3 907,526.0 908,521.7 909,517.7 910,514.1 911,511.1 912,508.7 913,507.1 914,506.3 915,506.5 916,507.6 917,509.5 918,512.2 919,515.5 920,519.3 921,523.4 922,527.7 923,532.0 924,536.2 925,540.1 926,543.8 927,547.1 928,549.9 929,550.7M957,550.7 958,548.8 959,546.5 960,544.1 961,541.3 962,538.4 963,535.4 964,532.4 965,529.4 966,526.7 967,524.2 968,522.2 969,520.7 970,519.7 971,519.4 972,519.7 973,520.7 974,522.2 975,524.2 976,526.7 977,529.4 978,532.4 979,535.4 980,538.4 981,541.3 982,544.1 983,546.5 984,548.8 985,550.7M1129.9,538.8 1130,538.4 1131,533.3 1132,527.9 1133,522.3 1134,516.7 1135,511.2 1136,506.1 1137,501.5 1138,497.8 1139,494.9 1140,493.2 1141,492.6 1142,493.2 1143,494.9 1144,497.8 1145,501.5 1146,506.1 1147,511.2 1148,516.7 1149,522.3 1150,527.9 1151,533.3 1152,538.4 1153,543.0 1154,547.1 1155,550.7M1210,550.7 1211,549.6 1212,547.2 1213,544.4 1214,541.4 1215,538.1 1216,534.6 1217,531.1 1218,527.6 1219,524.2 1220,521.2 1221,518.6 1222,516.5 1223,515.0 1224,514.3 1225,514.3 1226,515.0 1227,516.5 1228,518.6 1229,521.2 1230,524.2 1231,527.6 1232,531.1 1233,534.6 1234,538.1 1235,541.4 1236,544.4 1237,547.2 1238,549.6 1239,550.7M1408,550.7 1409,549.6 1410,546.6 1411,543.2 1412,539.3 1413,535.2 1414,530.8 1415,526.4 1416,521.9 1417,517.7 1418,513.8 1419,510.4 1420,507.7 1421,505.8 1422,504.8 1423,504.7 1424,505.5 1425,507.3 1426,509.8 1427,513.1 1428,516.9 1429,521.1 1430,525.5 1431,530.0 1432,534.3 1433,538.5 1434,542.4 1435,545.9 1436,549.1 1437,550.7M1492,550.7 1493,548.6 1494,546.1 1495,543.3 1496,540.3 1497,537.1 1498,533.7 1499,530.4 1500,527.1 1501,524.1 1502,521.3 1503,519.1 1504,517.4 1505,516.4 1506,516.0 1507,516.4 1508,517.4 1509,519.1 1510,521.3 1511,524.1 1512,527.1 1513,530.4 1514,533.7 1515,537.1 1516,540.3 1517,543.3 1518,546.1 1519,548.6 1520,550.7" stroke="#c62a2f"/>
<path d="M649,550.7 650,550.0 651,547.3 652,544.2 653,540.8 654,537.1 655,533.2 656,529.2 657,525.1 658,521.3 659,517.7 660,514.6 661,512.1 662,510.3 663,509.3 664,509.1 665,509.8 666,511.3 667,513.6 668,516.4 669,519.8 670,523.6 671,527.5 672,531.6 673,535.6 674,539.4 675,542.9 676,546.1 677,548.9 678,550.7M846,550.7 847,547.2 848,542.7 849,537.6 850,532.1 851,526.2 852,520.0 853,513.8 854,507.8 855,502.1 856,497.0 857,492.8 858,489.5 859,487.5 860,486.7 861,487.2 862,489.0 863,492.0 864,496.1 865,501.0 866,506.6 867,512.6 868,518.8 869,525.0 870,530.9 871,536.6 872,541.7 873,546.3 874,550.4 875,550.7M986,550.7 987,549.0 988,546.1 989,542.9 990,539.4 991,535.7 992,531.7 993,527.7 994,523.8 995,520.0 996,516.7 997,513.8 998,511.6 999,510.1 1000,509.4 1001,509.6 1002,510.6 1003,512.4 1004,514.9 1005,518.0 1006,521.5 1007,525.3 1008,529.3 1009,533.3 1010,537.2 1011,540.9 1012,544.3 1013,547.3 1014,549.5 1015,547.3 1016,544.1 1017,540.5 1018,536.5 1019,532.3 1020,528.0 1021,523.7 1022,519.5 1023,515.6 1024,512.3 1025,509.5 1026,507.5 1027,506.3 1028,506.0 1029,506.7 1030,508.2 1031,510.5 1032,513.5 1033,517.1 1034,521.1 1035,525.4 1036,529.7 1037,534.0 1038,538.1 1039,541.9 1040,545.4 1041,548.5 1042,550.7M1042,550.7 1043,550.4 1044,549.2 1045,547.9 1046,546.4 1047,544.8 1048,543.1 1049,541.3 1050,539.6 1051,537.9 1052,536.4 1053,535.0 1054,533.9 1055,533.1 1056,532.7 1057,532.6 1058,532.9 1059,533.6 1060,534.5 1061,535.8 1062,537.3 1063,538.9 1064,540.6 1065,542.4 1066,544.1 1067,545.8 1068,547.3 1069,548.7 1070,549.9 1071,550.7M1183,550.7 1184,546.8 1185,542.2 1186,537.1 1187,531.5 1188,525.6 1189,519.4 1190,513.2 1191,507.2 1192,501.6 1193,496.6 1194,492.4 1195,489.3 1196,487.4 1197,486.7 1198,487.4 1199,489.3 1200,492.4 1201,496.6 1202,501.6 1203,507.2 1204,513.2 1205,519.4 1206,525.6 1207,531.5 1208,537.1 1209,542.2 1210,546.8 1211,550.7M1240,550.7 1241,547.2 1242,542.8 1243,537.9 1244,532.5 1245,526.7 1246,520.6 1247,514.5 1248,508.6 1249,503.0 1250,498.0 1251,493.9 1252,490.7 1253,488.7 1254,487.9 1255,488.4 1256,490.2 1257,493.1 1258,497.1 1259,502.0 1260,507.4 1261,513.3 1262,519.4 1263,525.5 1264,531.3 1265,536.8 1266,541.9 1267,546.4 1268,550.4 1269,548.2 1270,544.9 1271,541.3 1272,537.3 1273,533.0 1274,528.6 1275,524.1 1276,519.8 1277,515.7 1278,512.0 1279,509.0 1280,506.7 1281,505.2 1282,504.6 1283,505.0 1284,506.3 1285,508.4 1286,511.4 1287,514.9 1288,518.9 1289,523.3 1290,527.7 1291,532.2 1292,536.5 1293,540.5 1294,544.2 1295,547.5 1296,550.4 1297,550.7M1379,550.7 1380,548.6 1381,545.2 1382,541.4 1383,537.2 1384,532.7 1385,527.9 1386,523.1 1387,518.4 1388,514.0 1389,509.9 1390,506.5 1391,503.8 1392,502.1 1393,501.2 1394,501.4 1395,502.7 1396,504.8 1397,507.8 1398,511.5 1399,515.7 1400,520.3 1401,525.1 1402,529.9 1403,534.5 1404,538.9 1405,543.0 1406,546.6 1407,549.8 1408,550.7M1464,550.7 1465,548.8 1466,544.5 1467,539.7 1468,534.4 1469,528.6 1470,522.5 1471,516.3 1472,510.2 1473,504.3 1474,499.0 1475,494.4 1476,490.7 1477,488.2 1478,486.9 1479,486.9 1480,488.2 1481,490.7 1482,494.4 1483,499.0 1484,504.3 1485,510.2 1486,516.3 1487,522.5 1488,528.6 1489,534.4 1490,539.7 1491,544.5 1492,548.8 1493,550.7M1521,550.7 1522,548.5 1523,545.3 1524,541.7 1525,537.7 1526,533.5 1527,529.1 1528,524.6 1529,520.2 1530,516.1 1531,512.4 1532,509.3 1533,506.8 1534,505.3 1535,504.6 1536,504.9 1537,506.1 1538,508.2 1539,511.0 1540,514.5 1541,518.5 1542,522.8 1543,527.3 1544,531.7 1545,536.1 1546,540.1 1547,543.9 1548,547.2 1549,549.3 1550,546.5 1551,542.7 1552,538.5 1553,533.9 1554,529.1 1555,524.1 1556,519.2 1557,514.4 1558,510.0 1559,506.2 1560,503.1 1561,500.9 1562,499.7 1563,499.4 1564,500.3 1565,502.1 1566,504.9 1567,508.4 1568,512.6 1569,517.2 1570,522.1 1571,527.1 1572,532.0 1573,536.7 1574,541.1 1575,545.0 1576,548.5 1577,548.8 1578,545.8 1579,542.3 1580,538.5 1581,534.4 1582,530.2 1583,525.8 1584,521.6 1585,517.5 1586,513.9 1587,510.8 1588,508.4 1589,506.8 1590,506.0 1591,506.2 1592,507.3 1593,509.2 1594,511.9 1595,515.3 1596,519.1 1597,523.2 1598,527.6 1599,531.9 1599.7,534.8" stroke="#1f2aa8"/>
<path d="M706,550.7 707,547.8 708,544.5 709,540.8 710,536.8 711,532.5 712,528.0 713,523.5 714,519.2 715,515.1 716,511.4 717,508.4 718,506.2 719,504.8 720,504.3 721,504.8 722,506.2 723,508.4 724,511.4 725,515.1 726,519.2 727,523.5 728,528.0 729,532.5 730,536.8 731,540.8 732,544.5 733,547.8 734,550.7M761,550.7 762,549.5 763,546.7 764,543.6 765,540.1 766,536.3 767,532.4 768,528.3 769,524.4 770,520.5 771,517.1 772,514.1 773,511.7 774,510.1 775,509.2 776,509.2 777,510.1 778,511.7 779,514.1 780,517.1 781,520.5 782,524.4 783,528.3 784,532.4 785,536.3 786,540.1 787,543.6 787.6,545.5M1098,550.7 1099,550.1 1100,548.0 1101,545.6 1102,542.9 1103,539.9 1104,536.8 1105,533.6 1106,530.4 1107,527.4 1108,524.5 1109,522.1 1110,520.1 1111,518.7 1112,517.9 1113,517.7 1114,518.3 1115,519.5 1116,521.2 1117,523.5 1118,526.2 1119,529.2 1120,532.3 1121,535.5 1122,538.7 1123,541.7 1124,544.5 1124.4,545.6" stroke="#4fb03c"/>
</g>
<clipPath id="lc4"><rect x="579.5" y="545.5" width="1040" height="40"/></clipPath>
<g font-family="Liberation Sans, sans-serif" font-size="21.5" text-anchor="middle" clip-path="url(#lc4)">
<text x="581.1" y="570.5" fill="#737373">A</text>
<text x="609.2" y="570.5" fill="#737373">A</text>
<text x="637.3" y="570.5" fill="#737373">A</text>
<text x="665.3" y="570.5" fill="#737373">C</text>
<text x="693.4" y="570.5" fill="#737373">A</text>
<text x="721.5" y="570.5" fill="#737373">T</text>
<text x="749.6" y="570.5" fill="#737373">A</text>
<text x="777.7" y="570.5" fill="#737373">T</text>
<text x="805.7" y="570.5" fill="#737373">A</text>
<text x="833.8" y="570.5" fill="#737373">G</text>
<text x="861.9" y="570.5" fill="#737373">C</text>
<text x="890.0" y="570.5" fill="#737373">A</text>
<text x="918.1" y="570.5" fill="#737373">A</text>
<text x="946.1" y="570.5" fill="#737373">G</text>
<text x="974.2" y="570.5" fill="#737373">A</text>
<text x="1002.3" y="571.1" fill="#002a2a" font-size="21">C</text>
<text x="1030.4" y="571.1" fill="#002a2a" font-size="21">C</text>
<text x="1058.5" y="571.1" fill="#002a2a" font-size="21">C</text>
<text x="1086.5" y="571.1" fill="#002a2a" font-size="21">G</text>
<text x="1114.6" y="571.1" fill="#002a2a" font-size="21">T</text>
<text x="1142.7" y="571.1" fill="#002a2a" font-size="21">A</text>
<text x="1170.8" y="571.1" fill="#002a2a" font-size="21">G</text>
<text x="1198.9" y="570.5" fill="#737373">C</text>
<text x="1226.9" y="570.5" fill="#737373">A</text>
<text x="1255.0" y="570.5" fill="#737373">C</text>
<text x="1283.1" y="570.5" fill="#737373">C</text>
<text x="1311.2" y="570.5" fill="#737373">G</text>
<text x="1339.3" y="570.5" fill="#737373">G</text>
<text x="1367.3" y="570.5" fill="#737373">G</text>
<text x="1395.4" y="570.5" fill="#737373">C</text>
<text x="1423.5" y="570.5" fill="#737373">A</text>
<text x="1451.6" y="570.5" fill="#737373">G</text>
<text x="1479.7" y="570.5" fill="#737373">C</text>
<text x="1507.7" y="570.5" fill="#737373">A</text>
<text x="1535.8" y="570.5" fill="#737373">C</text>
<text x="1563.9" y="570.5" fill="#737373">C</text>
<text x="1592.0" y="570.5" fill="#737373">C</text>
</g>
<clipPath id="cl5"><rect x="580.0" y="570.5" width="1019.7" height="83.0"/></clipPath>
<rect x="989.1" y="653.6" width="196.7" height="17.6" fill="#e8a6a6"/>
<rect x="999.2" y="661.6" width="9" height="2" fill="#111"/>
<rect x="1027.4" y="661.6" width="9" height="2" fill="#111"/>
<rect x="1055.6" y="661.6" width="9" height="2" fill="#111"/>
<rect x="1083.8" y="661.6" width="9" height="2" fill="#111"/>
<rect x="1112.0" y="661.6" width="9" height="2" fill="#111"/>
<rect x="1140.2" y="661.6" width="9" height="2" fill="#111"/>
<rect x="1168.4" y="661.6" width="9" height="2" fill="#111"/>
<line x1="580.0" y1="650.5" x2="787.6" y2="650.5" stroke="#4a9e34" stroke-width="2.6"/>
<line x1="706.0" y1="650.5" x2="734.0" y2="650.5" stroke="#8a7444" stroke-width="2.6"/>
<line x1="763.0" y1="650.5" x2="787.0" y2="650.5" stroke="#8a7444" stroke-width="2.6"/>
<line x1="791.0" y1="650.5" x2="983.4" y2="650.5" stroke="#4a9e34" stroke-width="2.6"/>
<line x1="1184.6" y1="650.5" x2="1323.4" y2="650.5" stroke="#4a9e34" stroke-width="2.6"/>
<line x1="1325.0" y1="650.5" x2="1599.7" y2="650.5" stroke="#4a9e34" stroke-width="2.6"/>
<g clip-path="url(#cl5)" fill="none" stroke-width="1.8" stroke-linejoin="round">
<path d="M816,650.5 817,649.7 818,647.4 819,644.7 820,641.8 821,638.6 822,635.3 823,631.9 824,628.5 825,625.2 826,622.2 827,619.7 828,617.6 829,616.1 830,615.3 831,615.3 832,615.9 833,617.2 834,619.2 835,621.7 836,624.6 837,627.8 838,631.2 839,634.6 840,638.0 841,641.2 842,644.2 843,646.9 844,649.2 845,650.5M930,650.5 931,648.8 932,645.7 933,642.1 934,638.1 935,633.9 936,629.4 937,624.9 938,620.4 939,616.2 940,612.3 941,609.0 942,606.4 943,604.6 944,603.8 945,603.9 946,604.9 947,606.9 948,609.6 949,613.0 950,617.0 951,621.3 952,625.8 953,630.3 954,634.8 955,639.0 956,642.8 957,646.3 958,649.4 959,650.5M1296,650.5 1297,649.1 1298,645.8 1299,642.2 1300,638.1 1301,633.7 1302,629.1 1303,624.4 1304,619.8 1305,615.3 1306,611.3 1307,607.8 1308,605.0 1309,603.1 1310,602.1 1311,602.1 1312,603.1 1313,605.0 1314,607.8 1315,611.3 1316,614.7 1317,618.3 1318,621.9 1319,625.6 1320,629.1 1321,632.6 1322,635.9 1323,639.0 1323.4,640.2M1325,643.4 1326,640.9 1327,638.1 1328,635.2 1329,632.0 1330,628.5 1331,624.8 1332,620.9 1333,617.1 1334,612.9 1335,609.1 1336,606.0 1337,603.8 1338,602.4 1339,602.0 1340,602.6 1341,604.2 1342,606.6 1343,609.8 1344,613.7 1345,617.4 1346,621.2 1347,625.1 1348,628.9 1349,632.5 1350,635.8 1351,639.0 1352,642.0 1353,642.3 1354,639.7 1355,636.9 1356,634.1 1357,631.3 1358,628.3 1359,625.4 1360,622.4 1361,619.6 1362,617.0 1363,614.4 1364,612.4 1365,611.1 1366,610.6 1367,610.9 1368,612.1 1369,613.9 1370,616.5 1371,619.5 1372,623.0 1373,626.7 1374,630.6 1375,634.5 1376,638.2 1377,641.7 1378,644.9 1379,647.8 1380,650.3 1381,650.5M1437,650.5 1438,647.6 1439,644.3 1440,640.6 1441,636.6 1442,632.3 1443,627.8 1444,623.3 1445,619.0 1446,614.9 1447,611.2 1448,608.2 1449,606.0 1450,604.6 1451,604.1 1452,604.6 1453,606.0 1454,608.2 1455,611.2 1456,614.9 1457,619.0 1458,623.3 1459,627.8 1460,632.3 1461,636.6 1462,640.6 1463,644.3 1464,647.6 1465,650.5" stroke="#bdb23e"/>
<path d="M580,596.8 581,599.5 582,603.1 583,607.5 584,612.4 585,617.7 586,623.1 587,628.5 588,633.7 589,638.6 590,643.1 591,647.0 592,650.5M594,650.5 595,649.7 596,646.8 597,643.5 598,639.8 599,635.8 600,631.6 601,627.2 602,622.9 603,618.7 604,614.8 605,611.5 606,608.8 607,606.8 608,605.7 609,605.5 610,606.3 611,607.9 612,610.3 613,613.4 614,617.1 615,621.2 616,625.4 617,629.8 618,634.1 619,638.2 620,642.1 621,645.5 622,648.6 623,647.7 624,643.7 625,639.1 626,634.1 627,628.8 628,623.2 629,617.6 630,612.1 631,606.9 632,602.2 633,598.3 634,595.2 635,593.3 636,592.4 637,592.8 638,594.3 639,596.9 640,600.5 641,604.9 642,609.9 643,615.4 644,621.0 645,626.6 646,632.0 647,637.2 648,641.9 649,646.1 650,649.8 651,650.5M678,650.5 679,648.8 680,644.9 681,640.5 682,635.6 683,630.3 684,624.7 685,619.1 686,613.5 687,608.1 688,603.2 689,599.0 690,595.7 691,593.3 692,592.2 693,592.2 694,593.3 695,595.7 696,599.0 697,603.2 698,608.1 699,613.5 700,619.1 701,624.7 702,630.3 703,635.6 704,640.5 705,644.9 706,648.8 707,650.5M734,650.5 735,650.1 736,646.1 737,641.4 738,636.3 739,630.6 740,624.6 741,618.4 742,612.1 743,606.1 744,600.4 745,595.5 746,591.4 747,588.4 748,586.5 749,586.0 750,586.8 751,588.9 752,592.1 753,596.4 754,601.5 755,607.2 756,613.3 757,619.6 758,625.8 759,631.8 760,637.3 761,642.4 762,646.9 763,650.5M791,644.1 792,640.3 793,636.1 794,631.6 795,626.9 796,622.3 797,617.7 798,613.5 799,609.7 800,606.6 801,604.2 802,602.8 803,602.3 804,602.8 805,604.2 806,606.6 807,609.7 808,613.5 809,617.7 810,622.3 811,626.9 812,631.6 813,636.1 814,640.3 815,644.1 816,647.5 817,650.5M874,650.5 875,649.4 876,646.9 877,644.2 878,641.1 879,637.7 880,634.2 881,630.6 882,627.1 883,623.7 884,620.6 885,617.9 886,615.8 887,614.3 888,613.6 889,613.6 890,614.3 891,615.8 892,617.9 893,620.6 894,623.7 895,627.1 896,630.6 897,634.2 898,637.7 899,641.1 900,644.2 901,646.9 902,649.4 903,647.7 904,644.5 905,640.9 906,637.0 907,632.8 908,628.5 909,624.1 910,619.9 911,615.9 912,612.4 913,609.5 914,607.3 915,606.0 916,605.5 917,606.0 918,607.3 919,609.5 920,612.4 921,615.9 922,619.9 923,624.1 924,628.5 925,632.8 926,637.0 927,640.9 928,644.5 929,647.7 930,650.5M958,650.5 959,650.0 960,647.3 961,644.3 962,640.8 963,637.1 964,633.2 965,629.1 966,625.0 967,621.1 968,617.5 969,614.3 970,611.7 971,609.8 972,608.7 973,608.4 974,609.0 975,610.5 976,612.6 977,615.5 978,618.9 979,622.7 980,626.7 981,630.7 982,634.8 983,638.6 983.4,640.1M1211,650.5 1212,649.0 1213,646.5 1214,643.6 1215,640.5 1216,637.2 1217,633.7 1218,630.2 1219,626.7 1220,623.4 1221,620.4 1222,617.9 1223,615.9 1224,614.6 1225,614.0 1226,614.2 1227,615.1 1228,616.7 1229,618.9 1230,621.6 1231,624.7 1232,628.1 1233,631.6 1234,635.1 1235,638.6 1236,641.8 1237,644.8 1238,647.5 1239,649.9 1240,650.5M1409,650.5 1410,648.8 1411,645.5 1412,641.8 1413,637.8 1414,633.4 1415,628.8 1416,624.1 1417,619.5 1418,615.1 1419,611.2 1420,607.8 1421,605.1 1422,603.3 1423,602.4 1424,602.5 1425,603.6 1426,605.6 1427,608.4 1428,611.9 1429,616.0 1430,620.4 1431,625.1 1432,629.7 1433,634.3 1434,638.6 1435,642.6 1436,646.2 1437,649.4 1438,650.5M1493,650.5 1494,649.9 1495,647.5 1496,644.8 1497,641.8 1498,638.6 1499,635.1 1500,631.6 1501,628.1 1502,624.7 1503,621.6 1504,618.9 1505,616.7 1506,615.1 1507,614.2 1508,614.0 1509,614.6 1510,615.9 1511,617.9 1512,620.4 1513,623.4 1514,626.7 1515,630.2 1516,633.7 1517,637.2 1518,640.5 1519,643.6 1520,646.5 1521,649.0 1522,650.5" stroke="#c62a2f"/>
<path d="M648,650.5 649,647.8 650,644.8 651,641.3 652,637.5 653,633.5 654,629.3 655,625.1 656,621.1 657,617.3 658,613.9 659,611.1 660,609.0 661,607.6 662,607.2 663,607.6 664,609.0 665,611.1 666,613.9 667,617.3 668,621.1 669,625.1 670,629.3 671,633.5 672,637.5 673,641.3 674,644.8 675,647.8 676,650.5M846,650.5 847,646.9 848,642.4 849,637.3 850,631.8 851,625.8 852,619.6 853,613.3 854,607.2 855,601.5 856,596.4 857,592.1 858,588.9 859,586.8 860,586.0 861,586.5 862,588.4 863,591.4 864,595.5 865,600.4 866,606.1 867,612.1 868,618.4 869,624.6 870,630.6 871,636.3 872,641.4 873,646.1 874,650.1 875,650.5M1184.6,639.2 1185,637.4 1186,632.6 1187,627.5 1188,622.4 1189,617.2 1190,612.3 1191,607.8 1192,603.9 1193,600.8 1194,598.6 1195,597.4 1196,597.3 1197,598.3 1198,600.3 1199,603.2 1200,607.0 1201,611.4 1202,616.2 1203,621.3 1204,626.5 1205,631.6 1206,636.4 1207,640.9 1208,645.0 1209,648.6 1210,650.5M1240,650.5 1241,646.9 1242,642.4 1243,637.3 1244,631.8 1245,625.8 1246,619.6 1247,613.3 1248,607.2 1249,601.5 1250,596.4 1251,592.1 1252,588.9 1253,586.8 1254,586.0 1255,586.5 1256,588.4 1257,591.4 1258,595.5 1259,600.4 1260,605.7 1261,611.2 1262,616.9 1263,622.5 1264,628.0 1265,633.1 1266,637.8 1267,642.2 1268,646.1 1269,643.9 1270,640.8 1271,637.5 1272,633.9 1273,630.0 1274,626.0 1275,621.9 1276,617.8 1277,613.9 1278,610.1 1279,606.9 1280,604.4 1281,602.9 1282,602.3 1283,602.7 1284,604.1 1285,606.3 1286,609.4 1287,613.1 1288,617.3 1289,621.8 1290,626.5 1291,631.1 1292,635.6 1293,639.9 1294,643.7 1295,647.2 1296,650.2 1297,650.5M1380,650.5 1381,649.6 1382,646.4 1383,642.7 1384,638.6 1385,634.2 1386,629.5 1387,624.7 1388,619.8 1389,615.2 1390,611.0 1391,607.2 1392,604.2 1393,602.1 1394,600.9 1395,600.6 1396,601.5 1397,603.3 1398,605.9 1399,609.4 1400,613.5 1401,618.0 1402,622.7 1403,627.6 1404,632.3 1405,636.9 1406,641.1 1407,645.0 1408,648.4 1409,650.5M1465,650.5 1466,646.5 1467,641.9 1468,636.8 1469,631.2 1470,625.2 1471,619.0 1472,612.7 1473,606.6 1474,601.0 1475,595.9 1476,591.7 1477,588.6 1478,586.7 1479,586.0 1480,586.7 1481,588.6 1482,591.7 1483,595.9 1484,601.0 1485,606.6 1486,612.7 1487,619.0 1488,625.2 1489,631.2 1490,636.8 1491,641.9 1492,646.5 1493,650.5M1520,650.5 1521,648.8 1522,645.5 1523,641.8 1524,637.7 1525,633.3 1526,628.7 1527,624.0 1528,619.3 1529,614.9 1530,610.9 1531,607.5 1532,604.8 1533,603.0 1534,602.1 1535,602.2 1536,603.3 1537,605.3 1538,608.1 1539,611.7 1540,614.9 1541,618.3 1542,621.7 1543,625.0 1544,628.3 1545,631.4 1546,634.4 1547,637.4 1548,640.4 1549,639.1 1550,635.9 1551,632.6 1552,629.1 1553,625.4 1554,621.5 1555,617.4 1556,613.2 1557,609.2 1558,604.8 1559,601.0 1560,598.2 1561,596.3 1562,595.5 1563,595.9 1564,597.3 1565,599.8 1566,603.2 1567,607.4 1568,611.5 1569,615.9 1570,620.4 1571,624.8 1572,629.1 1573,633.1 1574,636.9 1575,640.5 1576,643.9 1577,642.7 1578,639.9 1579,637.0 1580,633.8 1581,630.4 1582,626.8 1583,623.1 1584,619.4 1585,615.8 1586,611.9 1587,608.7 1588,606.2 1589,604.5 1590,603.7 1591,603.9 1592,605.1 1593,607.1 1594,609.9 1595,613.4 1596,617.4 1597,621.7 1598,626.3 1599,630.8 1599.7,633.9" stroke="#1f2aa8"/>
<path d="M705,650.5 706,649.5 707,646.8 708,643.6 709,640.1 710,636.3 711,632.4 712,628.3 713,624.2 714,620.4 715,616.8 716,613.7 717,611.2 718,609.5 719,608.6 720,608.5 721,609.2 722,610.8 723,613.2 724,616.1 725,619.6 726,623.4 727,627.5 728,631.6 729,635.6 730,639.4 731,642.9 732,646.2 733,649.0 734,650.5M762,650.5 763,649.2 764,646.7 765,643.9 766,640.9 767,637.6 768,634.1 769,630.5 770,627.0 771,623.7 772,620.7 773,618.1 774,616.1 775,614.7 776,614.1 777,614.1 778,614.9 779,616.5 780,618.6 781,621.3 782,624.4 783,627.7 784,631.2 785,634.8 786,638.2 787,641.5 787.6,643.4" stroke="#4fb03c"/>
</g>
<clipPath id="lc5"><rect x="579.5" y="645.3" width="1040" height="40"/></clipPath>
<g font-family="Liberation Sans, sans-serif" font-size="21.5" text-anchor="middle" clip-path="url(#lc5)">
<text x="581.1" y="670.3" fill="#737373">A</text>
<text x="609.2" y="670.3" fill="#737373">A</text>
<text x="637.3" y="670.3" fill="#737373">A</text>
<text x="665.3" y="670.3" fill="#737373">C</text>
<text x="693.4" y="670.3" fill="#737373">A</text>
<text x="721.5" y="670.3" fill="#737373">T</text>
<text x="749.6" y="670.3" fill="#737373">A</text>
<text x="777.7" y="670.3" fill="#737373">T</text>
<text x="805.7" y="670.3" fill="#737373">A</text>
<text x="833.8" y="670.3" fill="#737373">G</text>
<text x="861.9" y="670.3" fill="#737373">C</text>
<text x="890.0" y="670.3" fill="#737373">A</text>
<text x="918.1" y="670.3" fill="#737373">A</text>
<text x="946.1" y="670.3" fill="#737373">G</text>
<text x="974.2" y="670.3" fill="#737373">A</text>
<text x="1198.9" y="670.3" fill="#737373">C</text>
<text x="1226.9" y="670.3" fill="#737373">A</text>
<text x="1255.0" y="670.3" fill="#737373">C</text>
<text x="1283.1" y="670.3" fill="#737373">C</text>
<text x="1311.2" y="670.3" fill="#737373">G</text>
<text x="1339.3" y="670.3" fill="#737373">G</text>
<text x="1367.3" y="670.3" fill="#737373">G</text>
<text x="1395.4" y="670.3" fill="#737373">C</text>
<text x="1423.5" y="670.3" fill="#737373">A</text>
<text x="1451.6" y="670.3" fill="#737373">G</text>
<text x="1479.7" y="670.3" fill="#737373">C</text>
<text x="1507.7" y="670.3" fill="#737373">A</text>
<text x="1535.8" y="670.3" fill="#737373">C</text>
<text x="1563.9" y="670.3" fill="#737373">C</text>
<text x="1592.0" y="670.3" fill="#737373">C</text>
</g>
<line x1="496.1" y1="842.8" x2="1286.5" y2="842.8" stroke="#1a1a1a" stroke-width="7.4" stroke-linecap="round"/>
<rect x="693.6" y="803.8" width="5.4" height="16.7" rx="2.7" fill="#c9343a"/>
<rect x="1205.5" y="804.5" width="5.4" height="16.0" rx="2.7" fill="#c9343a"/>
<rect x="530.5" y="818.5" width="54.8" height="46.5" fill="#6f6f6f" stroke="#1e1e1e" stroke-width="2"/>
<text x="527.41" y="855.70" font-size="41.50" fill="#fff" textLength="60.21" lengthAdjust="spacingAndGlyphs" stroke="#fff" stroke-width="0.90" stroke-linejoin="round">ex1</text>
<rect x="652.6" y="818.5" width="81.8" height="46.5" fill="#6f6f6f" stroke="#1e1e1e" stroke-width="2"/>
<rect x="686.4" y="817.5" width="49.0" height="48.5" fill="#1b1b1b"/>
<text x="659.70" y="855.70" font-size="41.50" fill="#fff" textLength="64.62" lengthAdjust="spacingAndGlyphs" stroke="#fff" stroke-width="0.90" stroke-linejoin="round">ex2</text>
<rect x="783.4" y="818.5" width="82.0" height="46.5" fill="#6f6f6f" stroke="#1e1e1e" stroke-width="2"/>
<rect x="782.4" y="817.5" width="25.9" height="48.5" fill="#1b1b1b"/>
<text x="786.51" y="855.70" font-size="41.50" fill="#fff" textLength="64.24" lengthAdjust="spacingAndGlyphs" stroke="#fff" stroke-width="0.90" stroke-linejoin="round">ex3</text>
<rect x="914.5" y="818.5" width="81.9" height="46.5" fill="#6f6f6f" stroke="#1e1e1e" stroke-width="2"/>
<text x="920.86" y="855.70" font-size="41.50" fill="#fff" textLength="66.14" lengthAdjust="spacingAndGlyphs" stroke="#fff" stroke-width="0.90" stroke-linejoin="round">ex4</text>
<rect x="1044.8" y="818.5" width="81.9" height="46.5" fill="#6f6f6f" stroke="#1e1e1e" stroke-width="2"/>
<text x="1050.60" y="855.70" font-size="41.50" fill="#fff" textLength="64.58" lengthAdjust="spacingAndGlyphs" stroke="#fff" stroke-width="0.90" stroke-linejoin="round">ex5</text>
<rect x="1172.5" y="818.5" width="81.9" height="46.5" fill="#6f6f6f" stroke="#1e1e1e" stroke-width="2"/>
<text x="1178.84" y="855.70" font-size="41.50" fill="#fff" textLength="66.78" lengthAdjust="spacingAndGlyphs" stroke="#fff" stroke-width="0.90" stroke-linejoin="round">ex6</text>
<path d="M531.6 817.5 V787.5 H565.0" fill="none" stroke="#1a1a1a" stroke-width="4.6"/>
<path d="M561.0 780.7 L587.0 787.5 L561.0 794.3 Z" fill="#1a1a1a"/>
<text x="701.80" y="815.80" font-size="27.70" fill="#c9343a" textLength="43.49" lengthAdjust="spacingAndGlyphs" stroke="#c9343a" stroke-width="0.50" stroke-linejoin="round">x26</text>
<text x="1214.35" y="816.00" font-size="27.70" fill="#c9343a" textLength="62.87" lengthAdjust="spacingAndGlyphs" stroke="#c9343a" stroke-width="0.50" stroke-linejoin="round">STOP</text>
<text x="545.02" y="904.60" font-size="41.00" fill="#111" textLength="23.97" lengthAdjust="spacingAndGlyphs" stroke="#111" stroke-width="0.60" stroke-linejoin="round">0</text>
<text x="669.82" y="904.60" font-size="41.00" fill="#111" textLength="45.17" lengthAdjust="spacingAndGlyphs" stroke="#111" stroke-width="0.60" stroke-linejoin="round">74</text>
<text x="795.84" y="904.60" font-size="41.00" fill="#111" textLength="40.64" lengthAdjust="spacingAndGlyphs" stroke="#111" stroke-width="0.60" stroke-linejoin="round">61</text>
<text x="932.34" y="904.60" font-size="41.00" fill="#111" textLength="44.23" lengthAdjust="spacingAndGlyphs" stroke="#111" stroke-width="0.60" stroke-linejoin="round">95</text>
<text x="1069.31" y="904.60" font-size="41.00" fill="#111" textLength="44.05" lengthAdjust="spacingAndGlyphs" stroke="#111" stroke-width="0.60" stroke-linejoin="round">55</text>
<text x="1197.01" y="904.60" font-size="41.00" fill="#111" textLength="44.08" lengthAdjust="spacingAndGlyphs" stroke="#111" stroke-width="0.60" stroke-linejoin="round">52</text>
<path d="M662.6 866.0 V910.3 H694.8" fill="none" stroke="#6ab04a" stroke-width="4.4"/>
<path d="M690.8 903.4 L716.8 910.3 L690.8 917.2 Z" fill="#6ab04a"/>
<line x1="496.1" y1="989.8" x2="1286.5" y2="989.8" stroke="#1a1a1a" stroke-width="7.4" stroke-linecap="round"/>
<rect x="667.7" y="952.5" width="5.4" height="15.8" rx="2.7" fill="#c9343a"/>
<rect x="1205.5" y="951.5" width="5.4" height="16.8" rx="2.7" fill="#c9343a"/>
<rect x="520.2" y="966.3" width="81.3" height="45.7" fill="#6f6f6f" stroke="#1e1e1e" stroke-width="2"/>
<text x="526.08" y="1002.70" font-size="41.50" fill="#fff" textLength="61.59" lengthAdjust="spacingAndGlyphs" stroke="#fff" stroke-width="0.90" stroke-linejoin="round">ex1</text>
<rect x="652.6" y="966.3" width="81.8" height="45.7" fill="#6f6f6f" stroke="#1e1e1e" stroke-width="2"/>
<rect x="686.4" y="965.3" width="49.0" height="47.7" fill="#1b1b1b"/>
<text x="658.91" y="1002.70" font-size="41.50" fill="#fff" textLength="64.30" lengthAdjust="spacingAndGlyphs" stroke="#fff" stroke-width="0.90" stroke-linejoin="round">ex2</text>
<rect x="783.4" y="966.3" width="82.0" height="45.7" fill="#6f6f6f" stroke="#1e1e1e" stroke-width="2"/>
<rect x="782.4" y="965.3" width="25.9" height="47.7" fill="#1b1b1b"/>
<text x="785.31" y="1002.70" font-size="41.50" fill="#fff" textLength="64.03" lengthAdjust="spacingAndGlyphs" stroke="#fff" stroke-width="0.90" stroke-linejoin="round">ex3</text>
<rect x="914.5" y="966.3" width="81.9" height="45.7" fill="#6f6f6f" stroke="#1e1e1e" stroke-width="2"/>
<text x="920.89" y="1002.70" font-size="41.50" fill="#fff" textLength="64.78" lengthAdjust="spacingAndGlyphs" stroke="#fff" stroke-width="0.90" stroke-linejoin="round">ex4</text>
<rect x="1044.8" y="966.3" width="81.9" height="45.7" fill="#6f6f6f" stroke="#1e1e1e" stroke-width="2"/>
<text x="1050.62" y="1002.70" font-size="41.50" fill="#fff" textLength="63.74" lengthAdjust="spacingAndGlyphs" stroke="#fff" stroke-width="0.90" stroke-linejoin="round">ex5</text>
<rect x="1172.5" y="966.3" width="81.9" height="45.7" fill="#6f6f6f" stroke="#1e1e1e" stroke-width="2"/>
<text x="1178.88" y="1002.70" font-size="41.50" fill="#fff" textLength="65.41" lengthAdjust="spacingAndGlyphs" stroke="#fff" stroke-width="0.90" stroke-linejoin="round">ex6</text>
<path d="M521.3 965.3 V935.1 H554.7" fill="none" stroke="#1a1a1a" stroke-width="4.6"/>
<path d="M550.7 928.3 L576.7 935.1 L550.7 941.9 Z" fill="#1a1a1a"/>
<path d="M652.9 965.3 V933.6 H686.3" fill="none" stroke="#1a1a1a" stroke-width="4.6"/>
<path d="M682.3 926.8 L708.3 933.6 L682.3 940.4 Z" fill="#1a1a1a"/>
<text x="675.30" y="963.50" font-size="27.70" fill="#c9343a" textLength="42.53" lengthAdjust="spacingAndGlyphs" stroke="#c9343a" stroke-width="0.50" stroke-linejoin="round">x10</text>
<text x="1214.35" y="962.20" font-size="27.70" fill="#c9343a" textLength="62.87" lengthAdjust="spacingAndGlyphs" stroke="#c9343a" stroke-width="0.50" stroke-linejoin="round">STOP</text>
<text x="545.02" y="1051.00" font-size="41.00" fill="#111" textLength="23.97" lengthAdjust="spacingAndGlyphs" stroke="#111" stroke-width="0.60" stroke-linejoin="round">0</text>
<text x="669.82" y="1051.00" font-size="41.00" fill="#111" textLength="45.17" lengthAdjust="spacingAndGlyphs" stroke="#111" stroke-width="0.60" stroke-linejoin="round">74</text>
<text x="795.84" y="1051.00" font-size="41.00" fill="#111" textLength="40.64" lengthAdjust="spacingAndGlyphs" stroke="#111" stroke-width="0.60" stroke-linejoin="round">61</text>
<text x="932.34" y="1051.00" font-size="41.00" fill="#111" textLength="44.23" lengthAdjust="spacingAndGlyphs" stroke="#111" stroke-width="0.60" stroke-linejoin="round">95</text>
<text x="1069.31" y="1051.00" font-size="41.00" fill="#111" textLength="44.05" lengthAdjust="spacingAndGlyphs" stroke="#111" stroke-width="0.60" stroke-linejoin="round">55</text>
<text x="1196.35" y="1051.00" font-size="41.00" fill="#111" textLength="40.21" lengthAdjust="spacingAndGlyphs" stroke="#111" stroke-width="0.60" stroke-linejoin="round">51</text>
<path d="M662.6 1013.0 V1057.5 H694.8" fill="none" stroke="#6ab04a" stroke-width="4.4"/>
<path d="M690.8 1050.6 L716.8 1057.5 L690.8 1064.4 Z" fill="#6ab04a"/>
<line x1="496.1" y1="1131.7" x2="1286.5" y2="1131.7" stroke="#1a1a1a" stroke-width="7.4" stroke-linecap="round"/>
<rect x="672.9" y="1095.0" width="5.4" height="15.0" rx="2.7" fill="#c9343a"/>
<rect x="1205.5" y="1093.0" width="5.4" height="17.0" rx="2.7" fill="#c9343a"/>
<rect x="652.6" y="1108.0" width="81.8" height="46.5" fill="#6f6f6f" stroke="#1e1e1e" stroke-width="2"/>
<rect x="686.4" y="1107.0" width="49.0" height="48.5" fill="#1b1b1b"/>
<text x="659.01" y="1145.20" font-size="41.50" fill="#fff" textLength="60.21" lengthAdjust="spacingAndGlyphs" stroke="#fff" stroke-width="0.90" stroke-linejoin="round">ex1</text>
<rect x="783.4" y="1108.0" width="82.0" height="46.5" fill="#6f6f6f" stroke="#1e1e1e" stroke-width="2"/>
<rect x="782.4" y="1107.0" width="25.9" height="48.5" fill="#1b1b1b"/>
<text x="785.31" y="1145.20" font-size="41.50" fill="#fff" textLength="64.30" lengthAdjust="spacingAndGlyphs" stroke="#fff" stroke-width="0.90" stroke-linejoin="round">ex2</text>
<rect x="914.5" y="1108.0" width="81.9" height="46.5" fill="#6f6f6f" stroke="#1e1e1e" stroke-width="2"/>
<text x="920.91" y="1145.20" font-size="41.50" fill="#fff" textLength="64.03" lengthAdjust="spacingAndGlyphs" stroke="#fff" stroke-width="0.90" stroke-linejoin="round">ex3</text>
<rect x="1044.8" y="1108.0" width="81.9" height="46.5" fill="#6f6f6f" stroke="#1e1e1e" stroke-width="2"/>
<text x="1050.58" y="1145.20" font-size="41.50" fill="#fff" textLength="65.41" lengthAdjust="spacingAndGlyphs" stroke="#fff" stroke-width="0.90" stroke-linejoin="round">ex4</text>
<rect x="1172.5" y="1108.0" width="81.9" height="46.5" fill="#6f6f6f" stroke="#1e1e1e" stroke-width="2"/>
<text x="1178.92" y="1145.20" font-size="41.50" fill="#fff" textLength="63.95" lengthAdjust="spacingAndGlyphs" stroke="#fff" stroke-width="0.90" stroke-linejoin="round">ex5</text>
<path d="M652.9 1107.0 V1076.8 H686.3" fill="none" stroke="#1a1a1a" stroke-width="4.6"/>
<path d="M682.3 1070.0 L708.3 1076.8 L682.3 1083.6 Z" fill="#1a1a1a"/>
<text x="680.41" y="1103.90" font-size="27.70" fill="#c9343a" textLength="41.34" lengthAdjust="spacingAndGlyphs" stroke="#c9343a" stroke-width="0.50" stroke-linejoin="round">x11</text>
<text x="1214.35" y="1103.90" font-size="27.70" fill="#c9343a" textLength="62.87" lengthAdjust="spacingAndGlyphs" stroke="#c9343a" stroke-width="0.50" stroke-linejoin="round">STOP</text>
<text x="665.75" y="1194.00" font-size="41.00" fill="#111" textLength="44.53" lengthAdjust="spacingAndGlyphs" stroke="#111" stroke-width="0.60" stroke-linejoin="round">74</text>
<text x="792.38" y="1194.00" font-size="41.00" fill="#111" textLength="39.76" lengthAdjust="spacingAndGlyphs" stroke="#111" stroke-width="0.60" stroke-linejoin="round">61</text>
<text x="928.45" y="1194.00" font-size="41.00" fill="#111" textLength="44.02" lengthAdjust="spacingAndGlyphs" stroke="#111" stroke-width="0.60" stroke-linejoin="round">95</text>
<text x="1064.69" y="1194.00" font-size="41.00" fill="#111" textLength="44.59" lengthAdjust="spacingAndGlyphs" stroke="#111" stroke-width="0.60" stroke-linejoin="round">55</text>
<text x="1192.76" y="1194.00" font-size="41.00" fill="#111" textLength="39.89" lengthAdjust="spacingAndGlyphs" stroke="#111" stroke-width="0.60" stroke-linejoin="round">51</text>
<path d="M662.6 1155.5 V1200.3 H694.8" fill="none" stroke="#6ab04a" stroke-width="4.4"/>
<path d="M690.8 1193.4 L716.8 1200.3 L690.8 1207.2 Z" fill="#6ab04a"/>
<rect x="1601" y="111.5" width="6" height="1.4" fill="#c4c4ee"/>
</svg>
</body></html>
